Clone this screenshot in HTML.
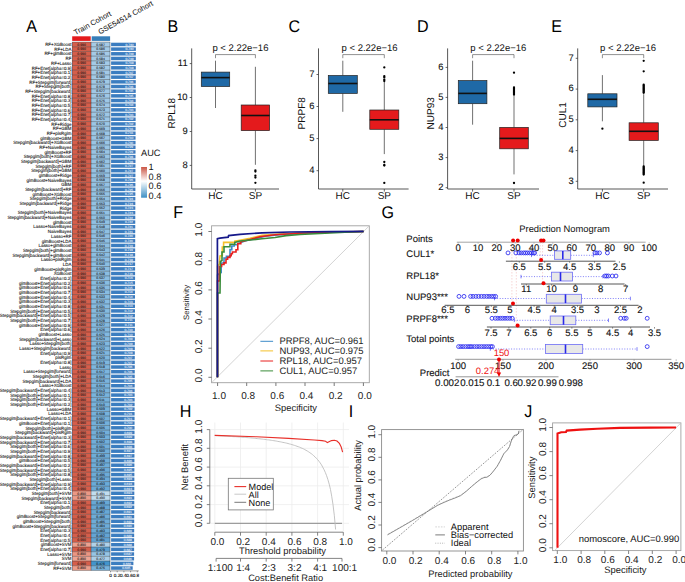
<!DOCTYPE html>
<html><head><meta charset="utf-8"><style>
html,body{margin:0;padding:0;background:#fff;}
svg{display:block;font-family:"Liberation Sans",sans-serif;text-rendering:geometricPrecision;}
</style></head><body>
<svg width="685" height="582" viewBox="0 0 685 582">
<rect width="685" height="582" fill="#fff"/>
<text transform="translate(26.3,31.8) scale(0.945,1)" font-size="17" fill="#000">A</text><text transform="translate(167.5,31.8) scale(0.945,1)" font-size="17" fill="#000">B</text><text transform="translate(288.6,31.8) scale(0.945,1)" font-size="17" fill="#000">C</text><text transform="translate(416.9,31.8) scale(0.945,1)" font-size="17" fill="#000">D</text><text transform="translate(551.3,31.8) scale(0.945,1)" font-size="17" fill="#000">E</text><text transform="translate(173.3,217.9) scale(0.945,1)" font-size="17" fill="#000">F</text><text transform="translate(381.55,217.9) scale(0.945,1)" font-size="17" fill="#000">G</text><text transform="translate(179.8,416.6) scale(0.945,1)" font-size="17" fill="#000">H</text><text transform="translate(348.7,416.6) scale(0.945,1)" font-size="17" fill="#000">I</text><text transform="translate(524.15,416.6) scale(0.945,1)" font-size="17" fill="#000">J</text>
<rect x="72.2" y="36.3" width="18.5" height="4.6" fill="#E41A1C"/>
<rect x="91.7" y="36.3" width="18.4" height="4.6" fill="#377EB8"/>
<text transform="translate(75.6,35.2) rotate(-29)" font-size="7.5" fill="#111" stroke="#111" stroke-width="0.05">Train Cohort</text>
<text transform="translate(100.0,34.6) rotate(-29)" font-size="7.5" fill="#111" stroke="#111" stroke-width="0.05">GSE54514 Cohort</text>
<rect x="72.2" y="42.10" width="18.9" height="4.68" fill="#d55e4b"/>
<rect x="91.1" y="42.10" width="19.0" height="4.68" fill="#a6cbe7"/>
<rect x="111.1" y="42.70" width="24.80" height="3.48" fill="#3B7DC0"/>
<rect x="72.2" y="46.78" width="18.9" height="4.68" fill="#d55e4b"/>
<rect x="91.1" y="46.78" width="19.0" height="4.68" fill="#a5cbe7"/>
<rect x="111.1" y="47.38" width="24.78" height="3.48" fill="#3B7DC0"/>
<rect x="72.2" y="51.45" width="18.9" height="4.68" fill="#d55e4b"/>
<rect x="91.1" y="51.45" width="19.0" height="4.68" fill="#a5cae7"/>
<rect x="111.1" y="52.05" width="24.77" height="3.48" fill="#3B7DC0"/>
<rect x="72.2" y="56.13" width="18.9" height="4.68" fill="#d55e4b"/>
<rect x="91.1" y="56.13" width="19.0" height="4.68" fill="#a4cae7"/>
<rect x="111.1" y="56.73" width="24.75" height="3.48" fill="#3B7DC0"/>
<rect x="72.2" y="60.80" width="18.9" height="4.68" fill="#d55e4b"/>
<rect x="91.1" y="60.80" width="19.0" height="4.68" fill="#a4cae7"/>
<rect x="111.1" y="61.40" width="24.73" height="3.48" fill="#3B7DC0"/>
<rect x="72.2" y="65.48" width="18.9" height="4.68" fill="#d55e4b"/>
<rect x="91.1" y="65.48" width="19.0" height="4.68" fill="#a3cae6"/>
<rect x="111.1" y="66.08" width="24.72" height="3.48" fill="#3B7DC0"/>
<rect x="72.2" y="70.15" width="18.9" height="4.68" fill="#d55e4b"/>
<rect x="91.1" y="70.15" width="19.0" height="4.68" fill="#a3c9e6"/>
<rect x="111.1" y="70.75" width="24.70" height="3.48" fill="#3B7DC0"/>
<rect x="72.2" y="74.83" width="18.9" height="4.68" fill="#d55e4b"/>
<rect x="91.1" y="74.83" width="19.0" height="4.68" fill="#a2c9e6"/>
<rect x="111.1" y="75.43" width="24.68" height="3.48" fill="#3B7DC0"/>
<rect x="72.2" y="79.50" width="18.9" height="4.68" fill="#d55e4b"/>
<rect x="91.1" y="79.50" width="19.0" height="4.68" fill="#a1c9e6"/>
<rect x="111.1" y="80.10" width="24.67" height="3.48" fill="#3B7DC0"/>
<rect x="72.2" y="84.18" width="18.9" height="4.68" fill="#d55e4b"/>
<rect x="91.1" y="84.18" width="19.0" height="4.68" fill="#a1c8e6"/>
<rect x="111.1" y="84.78" width="24.65" height="3.48" fill="#3B7DC0"/>
<rect x="72.2" y="88.85" width="18.9" height="4.68" fill="#d55e4b"/>
<rect x="91.1" y="88.85" width="19.0" height="4.68" fill="#a0c8e6"/>
<rect x="111.1" y="89.45" width="24.64" height="3.48" fill="#3B7DC0"/>
<rect x="72.2" y="93.53" width="18.9" height="4.68" fill="#d55e4b"/>
<rect x="91.1" y="93.53" width="19.0" height="4.68" fill="#a0c8e6"/>
<rect x="111.1" y="94.13" width="24.62" height="3.48" fill="#3B7DC0"/>
<rect x="72.2" y="98.20" width="18.9" height="4.68" fill="#d55e4b"/>
<rect x="91.1" y="98.20" width="19.0" height="4.68" fill="#9fc8e6"/>
<rect x="111.1" y="98.80" width="24.60" height="3.48" fill="#3B7DC0"/>
<rect x="72.2" y="102.88" width="18.9" height="4.68" fill="#d55e4b"/>
<rect x="91.1" y="102.88" width="19.0" height="4.68" fill="#9fc7e5"/>
<rect x="111.1" y="103.48" width="24.59" height="3.48" fill="#3B7DC0"/>
<rect x="72.2" y="107.55" width="18.9" height="4.68" fill="#d55e4b"/>
<rect x="91.1" y="107.55" width="19.0" height="4.68" fill="#9ec7e5"/>
<rect x="111.1" y="108.15" width="24.57" height="3.48" fill="#3B7DC0"/>
<rect x="72.2" y="112.23" width="18.9" height="4.68" fill="#d55e4b"/>
<rect x="91.1" y="112.23" width="19.0" height="4.68" fill="#9ec7e5"/>
<rect x="111.1" y="112.83" width="24.55" height="3.48" fill="#3B7DC0"/>
<rect x="72.2" y="116.90" width="18.9" height="4.68" fill="#d55e4b"/>
<rect x="91.1" y="116.90" width="19.0" height="4.68" fill="#9dc6e5"/>
<rect x="111.1" y="117.50" width="24.54" height="3.48" fill="#3B7DC0"/>
<rect x="72.2" y="121.58" width="18.9" height="4.68" fill="#d55e4b"/>
<rect x="91.1" y="121.58" width="19.0" height="4.68" fill="#9cc6e5"/>
<rect x="111.1" y="122.18" width="24.52" height="3.48" fill="#3B7DC0"/>
<rect x="72.2" y="126.25" width="18.9" height="4.68" fill="#d55e4b"/>
<rect x="91.1" y="126.25" width="19.0" height="4.68" fill="#9cc6e5"/>
<rect x="111.1" y="126.85" width="24.50" height="3.48" fill="#3B7DC0"/>
<rect x="72.2" y="130.93" width="18.9" height="4.68" fill="#d55e4b"/>
<rect x="91.1" y="130.93" width="19.0" height="4.68" fill="#9bc6e5"/>
<rect x="111.1" y="131.53" width="24.49" height="3.48" fill="#3B7DC0"/>
<rect x="72.2" y="135.60" width="18.9" height="4.68" fill="#d55e4b"/>
<rect x="91.1" y="135.60" width="19.0" height="4.68" fill="#9bc5e5"/>
<rect x="111.1" y="136.20" width="24.47" height="3.48" fill="#3B7DC0"/>
<rect x="72.2" y="140.28" width="18.9" height="4.68" fill="#d55e4b"/>
<rect x="91.1" y="140.28" width="19.0" height="4.68" fill="#9ac5e5"/>
<rect x="111.1" y="140.88" width="24.45" height="3.48" fill="#3B7DC0"/>
<rect x="72.2" y="144.95" width="18.9" height="4.68" fill="#d55e4b"/>
<rect x="91.1" y="144.95" width="19.0" height="4.68" fill="#9ac5e4"/>
<rect x="111.1" y="145.55" width="24.44" height="3.48" fill="#3B7DC0"/>
<rect x="72.2" y="149.63" width="18.9" height="4.68" fill="#d55e4b"/>
<rect x="91.1" y="149.63" width="19.0" height="4.68" fill="#99c4e4"/>
<rect x="111.1" y="150.23" width="24.42" height="3.48" fill="#3B7DC0"/>
<rect x="72.2" y="154.31" width="18.9" height="4.68" fill="#d55e4b"/>
<rect x="91.1" y="154.31" width="19.0" height="4.68" fill="#98c4e4"/>
<rect x="111.1" y="154.91" width="24.40" height="3.48" fill="#3B7DC0"/>
<rect x="72.2" y="158.98" width="18.9" height="4.68" fill="#d55e4b"/>
<rect x="91.1" y="158.98" width="19.0" height="4.68" fill="#98c4e4"/>
<rect x="111.1" y="159.58" width="24.39" height="3.48" fill="#3B7DC0"/>
<rect x="72.2" y="163.66" width="18.9" height="4.68" fill="#d55e4b"/>
<rect x="91.1" y="163.66" width="19.0" height="4.68" fill="#97c4e4"/>
<rect x="111.1" y="164.26" width="24.37" height="3.48" fill="#3B7DC0"/>
<rect x="72.2" y="168.33" width="18.9" height="4.68" fill="#d55e4b"/>
<rect x="91.1" y="168.33" width="19.0" height="4.68" fill="#97c3e4"/>
<rect x="111.1" y="168.93" width="24.35" height="3.48" fill="#3B7DC0"/>
<rect x="72.2" y="173.01" width="18.9" height="4.68" fill="#d55e4b"/>
<rect x="91.1" y="173.01" width="19.0" height="4.68" fill="#96c3e4"/>
<rect x="111.1" y="173.61" width="24.34" height="3.48" fill="#3B7DC0"/>
<rect x="72.2" y="177.68" width="18.9" height="4.68" fill="#d55e4b"/>
<rect x="91.1" y="177.68" width="19.0" height="4.68" fill="#96c3e4"/>
<rect x="111.1" y="178.28" width="24.32" height="3.48" fill="#3B7DC0"/>
<rect x="72.2" y="182.36" width="18.9" height="4.68" fill="#d55e4b"/>
<rect x="91.1" y="182.36" width="19.0" height="4.68" fill="#95c2e4"/>
<rect x="111.1" y="182.96" width="24.31" height="3.48" fill="#3B7DC0"/>
<rect x="72.2" y="187.03" width="18.9" height="4.68" fill="#d55e4b"/>
<rect x="91.1" y="187.03" width="19.0" height="4.68" fill="#94c2e3"/>
<rect x="111.1" y="187.63" width="24.29" height="3.48" fill="#3B7DC0"/>
<rect x="72.2" y="191.71" width="18.9" height="4.68" fill="#d55e4b"/>
<rect x="91.1" y="191.71" width="19.0" height="4.68" fill="#94c2e3"/>
<rect x="111.1" y="192.31" width="24.27" height="3.48" fill="#3B7DC0"/>
<rect x="72.2" y="196.38" width="18.9" height="4.68" fill="#d55e4b"/>
<rect x="91.1" y="196.38" width="19.0" height="4.68" fill="#93c2e3"/>
<rect x="111.1" y="196.98" width="24.26" height="3.48" fill="#3B7DC0"/>
<rect x="72.2" y="201.06" width="18.9" height="4.68" fill="#d55e4b"/>
<rect x="91.1" y="201.06" width="19.0" height="4.68" fill="#93c1e3"/>
<rect x="111.1" y="201.66" width="24.24" height="3.48" fill="#3B7DC0"/>
<rect x="72.2" y="205.73" width="18.9" height="4.68" fill="#d55e4b"/>
<rect x="91.1" y="205.73" width="19.0" height="4.68" fill="#92c1e3"/>
<rect x="111.1" y="206.33" width="24.22" height="3.48" fill="#3B7DC0"/>
<rect x="72.2" y="210.41" width="18.9" height="4.68" fill="#d55e4b"/>
<rect x="91.1" y="210.41" width="19.0" height="4.68" fill="#92c1e3"/>
<rect x="111.1" y="211.01" width="24.21" height="3.48" fill="#3B7DC0"/>
<rect x="72.2" y="215.08" width="18.9" height="4.68" fill="#d55e4b"/>
<rect x="91.1" y="215.08" width="19.0" height="4.68" fill="#91c1e3"/>
<rect x="111.1" y="215.68" width="24.19" height="3.48" fill="#3B7DC0"/>
<rect x="72.2" y="219.76" width="18.9" height="4.68" fill="#d55e4b"/>
<rect x="91.1" y="219.76" width="19.0" height="4.68" fill="#90c0e3"/>
<rect x="111.1" y="220.36" width="24.17" height="3.48" fill="#3B7DC0"/>
<rect x="72.2" y="224.43" width="18.9" height="4.68" fill="#d55e4b"/>
<rect x="91.1" y="224.43" width="19.0" height="4.68" fill="#90c0e2"/>
<rect x="111.1" y="225.03" width="24.16" height="3.48" fill="#3B7DC0"/>
<rect x="72.2" y="229.11" width="18.9" height="4.68" fill="#d55e4b"/>
<rect x="91.1" y="229.11" width="19.0" height="4.68" fill="#8fc0e2"/>
<rect x="111.1" y="229.71" width="24.14" height="3.48" fill="#3B7DC0"/>
<rect x="72.2" y="233.78" width="18.9" height="4.68" fill="#d55e4b"/>
<rect x="91.1" y="233.78" width="19.0" height="4.68" fill="#8fbfe2"/>
<rect x="111.1" y="234.38" width="24.12" height="3.48" fill="#3B7DC0"/>
<rect x="72.2" y="238.46" width="18.9" height="4.68" fill="#d55e4b"/>
<rect x="91.1" y="238.46" width="19.0" height="4.68" fill="#8ebfe2"/>
<rect x="111.1" y="239.06" width="24.11" height="3.48" fill="#3B7DC0"/>
<rect x="72.2" y="243.13" width="18.9" height="4.68" fill="#d55e4b"/>
<rect x="91.1" y="243.13" width="19.0" height="4.68" fill="#8ebfe2"/>
<rect x="111.1" y="243.73" width="24.09" height="3.48" fill="#3B7DC0"/>
<rect x="72.2" y="247.81" width="18.9" height="4.68" fill="#d55e4b"/>
<rect x="91.1" y="247.81" width="19.0" height="4.68" fill="#8dbfe2"/>
<rect x="111.1" y="248.41" width="24.07" height="3.48" fill="#3B7DC0"/>
<rect x="72.2" y="252.48" width="18.9" height="4.68" fill="#d55e4b"/>
<rect x="91.1" y="252.48" width="19.0" height="4.68" fill="#8cbee2"/>
<rect x="111.1" y="253.08" width="24.06" height="3.48" fill="#3B7DC0"/>
<rect x="72.2" y="257.16" width="18.9" height="4.68" fill="#d55e4b"/>
<rect x="91.1" y="257.16" width="19.0" height="4.68" fill="#8cbee2"/>
<rect x="111.1" y="257.76" width="24.04" height="3.48" fill="#3B7DC0"/>
<rect x="72.2" y="261.84" width="18.9" height="4.68" fill="#d55e4b"/>
<rect x="91.1" y="261.84" width="19.0" height="4.68" fill="#8bbee2"/>
<rect x="111.1" y="262.44" width="24.02" height="3.48" fill="#3B7DC0"/>
<rect x="72.2" y="266.51" width="18.9" height="4.68" fill="#d55e4b"/>
<rect x="91.1" y="266.51" width="19.0" height="4.68" fill="#8bbde1"/>
<rect x="111.1" y="267.11" width="24.01" height="3.48" fill="#3B7DC0"/>
<rect x="72.2" y="271.19" width="18.9" height="4.68" fill="#d55e4b"/>
<rect x="91.1" y="271.19" width="19.0" height="4.68" fill="#8abde1"/>
<rect x="111.1" y="271.79" width="23.99" height="3.48" fill="#3B7DC0"/>
<rect x="72.2" y="275.86" width="18.9" height="4.68" fill="#d55e4b"/>
<rect x="91.1" y="275.86" width="19.0" height="4.68" fill="#8abde1"/>
<rect x="111.1" y="276.46" width="23.98" height="3.48" fill="#3B7DC0"/>
<rect x="72.2" y="280.54" width="18.9" height="4.68" fill="#d55e4b"/>
<rect x="91.1" y="280.54" width="19.0" height="4.68" fill="#89bde1"/>
<rect x="111.1" y="281.14" width="23.96" height="3.48" fill="#3B7DC0"/>
<rect x="72.2" y="285.21" width="18.9" height="4.68" fill="#d55e4b"/>
<rect x="91.1" y="285.21" width="19.0" height="4.68" fill="#89bce1"/>
<rect x="111.1" y="285.81" width="23.94" height="3.48" fill="#3B7DC0"/>
<rect x="72.2" y="289.89" width="18.9" height="4.68" fill="#d55e4b"/>
<rect x="91.1" y="289.89" width="19.0" height="4.68" fill="#88bce1"/>
<rect x="111.1" y="290.49" width="23.93" height="3.48" fill="#3B7DC0"/>
<rect x="72.2" y="294.56" width="18.9" height="4.68" fill="#d55e4b"/>
<rect x="91.1" y="294.56" width="19.0" height="4.68" fill="#87bce1"/>
<rect x="111.1" y="295.16" width="23.91" height="3.48" fill="#3B7DC0"/>
<rect x="72.2" y="299.24" width="18.9" height="4.68" fill="#d55e4b"/>
<rect x="91.1" y="299.24" width="19.0" height="4.68" fill="#87bbe1"/>
<rect x="111.1" y="299.84" width="23.89" height="3.48" fill="#3B7DC0"/>
<rect x="72.2" y="303.91" width="18.9" height="4.68" fill="#d55e4b"/>
<rect x="91.1" y="303.91" width="19.0" height="4.68" fill="#86bbe0"/>
<rect x="111.1" y="304.51" width="23.88" height="3.48" fill="#3B7DC0"/>
<rect x="72.2" y="308.59" width="18.9" height="4.68" fill="#d55e4b"/>
<rect x="91.1" y="308.59" width="19.0" height="4.68" fill="#86bbe0"/>
<rect x="111.1" y="309.19" width="23.86" height="3.48" fill="#3B7DC0"/>
<rect x="72.2" y="313.26" width="18.9" height="4.68" fill="#d55e4b"/>
<rect x="91.1" y="313.26" width="19.0" height="4.68" fill="#85bbe0"/>
<rect x="111.1" y="313.86" width="23.84" height="3.48" fill="#3B7DC0"/>
<rect x="72.2" y="317.94" width="18.9" height="4.68" fill="#d55e4b"/>
<rect x="91.1" y="317.94" width="19.0" height="4.68" fill="#85bae0"/>
<rect x="111.1" y="318.54" width="23.83" height="3.48" fill="#3B7DC0"/>
<rect x="72.2" y="322.61" width="18.9" height="4.68" fill="#d55e4b"/>
<rect x="91.1" y="322.61" width="19.0" height="4.68" fill="#84bae0"/>
<rect x="111.1" y="323.21" width="23.81" height="3.48" fill="#3B7DC0"/>
<rect x="72.2" y="327.29" width="18.9" height="4.68" fill="#d55e4b"/>
<rect x="91.1" y="327.29" width="19.0" height="4.68" fill="#83bae0"/>
<rect x="111.1" y="327.89" width="23.79" height="3.48" fill="#3B7DC0"/>
<rect x="72.2" y="331.96" width="18.9" height="4.68" fill="#d55e4b"/>
<rect x="91.1" y="331.96" width="19.0" height="4.68" fill="#82b9e0"/>
<rect x="111.1" y="332.56" width="23.78" height="3.48" fill="#3B7DC0"/>
<rect x="72.2" y="336.64" width="18.9" height="4.68" fill="#d55e4b"/>
<rect x="91.1" y="336.64" width="19.0" height="4.68" fill="#82b9df"/>
<rect x="111.1" y="337.24" width="23.76" height="3.48" fill="#3B7DC0"/>
<rect x="72.2" y="341.31" width="18.9" height="4.68" fill="#d55e4b"/>
<rect x="91.1" y="341.31" width="19.0" height="4.68" fill="#81b8df"/>
<rect x="111.1" y="341.91" width="23.74" height="3.48" fill="#3B7DC0"/>
<rect x="72.2" y="345.99" width="18.9" height="4.68" fill="#d55e4b"/>
<rect x="91.1" y="345.99" width="19.0" height="4.68" fill="#80b8df"/>
<rect x="111.1" y="346.59" width="23.73" height="3.48" fill="#3B7DC0"/>
<rect x="72.2" y="350.66" width="18.9" height="4.68" fill="#d55e4b"/>
<rect x="91.1" y="350.66" width="19.0" height="4.68" fill="#80b7de"/>
<rect x="111.1" y="351.26" width="23.71" height="3.48" fill="#3B7DC0"/>
<rect x="72.2" y="355.34" width="18.9" height="4.68" fill="#d55e4b"/>
<rect x="91.1" y="355.34" width="19.0" height="4.68" fill="#7fb7de"/>
<rect x="111.1" y="355.94" width="23.69" height="3.48" fill="#3B7DC0"/>
<rect x="72.2" y="360.02" width="18.9" height="4.68" fill="#d55e4b"/>
<rect x="91.1" y="360.02" width="19.0" height="4.68" fill="#7eb6de"/>
<rect x="111.1" y="360.62" width="23.68" height="3.48" fill="#3B7DC0"/>
<rect x="72.2" y="364.69" width="18.9" height="4.68" fill="#d55e4b"/>
<rect x="91.1" y="364.69" width="19.0" height="4.68" fill="#7db6de"/>
<rect x="111.1" y="365.29" width="23.66" height="3.48" fill="#3B7DC0"/>
<rect x="72.2" y="369.37" width="18.9" height="4.68" fill="#d55e4b"/>
<rect x="91.1" y="369.37" width="19.0" height="4.68" fill="#7cb5de"/>
<rect x="111.1" y="369.97" width="23.65" height="3.48" fill="#3B7DC0"/>
<rect x="72.2" y="374.04" width="18.9" height="4.68" fill="#d55e4b"/>
<rect x="91.1" y="374.04" width="19.0" height="4.68" fill="#7cb5dd"/>
<rect x="111.1" y="374.64" width="23.63" height="3.48" fill="#3B7DC0"/>
<rect x="72.2" y="378.72" width="18.9" height="4.68" fill="#d55e4b"/>
<rect x="91.1" y="378.72" width="19.0" height="4.68" fill="#7bb4dd"/>
<rect x="111.1" y="379.32" width="23.61" height="3.48" fill="#3B7DC0"/>
<rect x="72.2" y="383.39" width="18.9" height="4.68" fill="#d55e4b"/>
<rect x="91.1" y="383.39" width="19.0" height="4.68" fill="#7ab4dd"/>
<rect x="111.1" y="383.99" width="23.60" height="3.48" fill="#3B7DC0"/>
<rect x="72.2" y="388.07" width="18.9" height="4.68" fill="#d55e4b"/>
<rect x="91.1" y="388.07" width="19.0" height="4.68" fill="#7ab3dc"/>
<rect x="111.1" y="388.67" width="23.58" height="3.48" fill="#3B7DC0"/>
<rect x="72.2" y="392.74" width="18.9" height="4.68" fill="#d55e4b"/>
<rect x="91.1" y="392.74" width="19.0" height="4.68" fill="#79b3dc"/>
<rect x="111.1" y="393.34" width="23.56" height="3.48" fill="#3B7DC0"/>
<rect x="72.2" y="397.42" width="18.9" height="4.68" fill="#d55e4b"/>
<rect x="91.1" y="397.42" width="19.0" height="4.68" fill="#78b2dc"/>
<rect x="111.1" y="398.02" width="23.55" height="3.48" fill="#3B7DC0"/>
<rect x="72.2" y="402.09" width="18.9" height="4.68" fill="#d55e4b"/>
<rect x="91.1" y="402.09" width="19.0" height="4.68" fill="#77b2dc"/>
<rect x="111.1" y="402.69" width="23.53" height="3.48" fill="#3B7DC0"/>
<rect x="72.2" y="406.77" width="18.9" height="4.68" fill="#d55e4b"/>
<rect x="91.1" y="406.77" width="19.0" height="4.68" fill="#76b2dc"/>
<rect x="111.1" y="407.37" width="23.51" height="3.48" fill="#3B7DC0"/>
<rect x="72.2" y="411.44" width="18.9" height="4.68" fill="#d55e4b"/>
<rect x="91.1" y="411.44" width="19.0" height="4.68" fill="#76b1db"/>
<rect x="111.1" y="412.04" width="23.50" height="3.48" fill="#3B7DC0"/>
<rect x="72.2" y="416.12" width="18.9" height="4.68" fill="#d55e4b"/>
<rect x="91.1" y="416.12" width="19.0" height="4.68" fill="#75b1db"/>
<rect x="111.1" y="416.72" width="23.48" height="3.48" fill="#3B7DC0"/>
<rect x="72.2" y="420.79" width="18.9" height="4.68" fill="#d55e4b"/>
<rect x="91.1" y="420.79" width="19.0" height="4.68" fill="#74b0db"/>
<rect x="111.1" y="421.39" width="23.46" height="3.48" fill="#3B7DC0"/>
<rect x="72.2" y="425.47" width="18.9" height="4.68" fill="#d55e4b"/>
<rect x="91.1" y="425.47" width="19.0" height="4.68" fill="#74b0da"/>
<rect x="111.1" y="426.07" width="23.45" height="3.48" fill="#3B7DC0"/>
<rect x="72.2" y="430.14" width="18.9" height="4.68" fill="#d55e4b"/>
<rect x="91.1" y="430.14" width="19.0" height="4.68" fill="#73afda"/>
<rect x="111.1" y="430.74" width="23.43" height="3.48" fill="#3B7DC0"/>
<rect x="72.2" y="434.82" width="18.9" height="4.68" fill="#d55e4b"/>
<rect x="91.1" y="434.82" width="19.0" height="4.68" fill="#72afda"/>
<rect x="111.1" y="435.42" width="23.41" height="3.48" fill="#3B7DC0"/>
<rect x="72.2" y="439.49" width="18.9" height="4.68" fill="#d55e4b"/>
<rect x="91.1" y="439.49" width="19.0" height="4.68" fill="#71aeda"/>
<rect x="111.1" y="440.09" width="23.40" height="3.48" fill="#3B7DC0"/>
<rect x="72.2" y="444.17" width="18.9" height="4.68" fill="#d55e4b"/>
<rect x="91.1" y="444.17" width="19.0" height="4.68" fill="#70aeda"/>
<rect x="111.1" y="444.77" width="23.38" height="3.48" fill="#3B7DC0"/>
<rect x="72.2" y="448.84" width="18.9" height="4.68" fill="#d55e4b"/>
<rect x="91.1" y="448.84" width="19.0" height="4.68" fill="#70add9"/>
<rect x="111.1" y="449.44" width="23.36" height="3.48" fill="#3B7DC0"/>
<rect x="72.2" y="453.52" width="18.9" height="4.68" fill="#d55e4b"/>
<rect x="91.1" y="453.52" width="19.0" height="4.68" fill="#6fadd9"/>
<rect x="111.1" y="454.12" width="23.35" height="3.48" fill="#3B7DC0"/>
<rect x="72.2" y="458.19" width="18.9" height="4.68" fill="#d55e4b"/>
<rect x="91.1" y="458.19" width="19.0" height="4.68" fill="#6eacd9"/>
<rect x="111.1" y="458.79" width="23.33" height="3.48" fill="#3B7DC0"/>
<rect x="72.2" y="462.87" width="18.9" height="4.68" fill="#d55e4b"/>
<rect x="91.1" y="462.87" width="19.0" height="4.68" fill="#6eacd8"/>
<rect x="111.1" y="463.47" width="23.31" height="3.48" fill="#3B7DC0"/>
<rect x="72.2" y="467.55" width="18.9" height="4.68" fill="#d55e4b"/>
<rect x="91.1" y="467.55" width="19.0" height="4.68" fill="#6dabd8"/>
<rect x="111.1" y="468.15" width="23.30" height="3.48" fill="#3B7DC0"/>
<rect x="72.2" y="472.22" width="18.9" height="4.68" fill="#d55e4b"/>
<rect x="91.1" y="472.22" width="19.0" height="4.68" fill="#6cabd8"/>
<rect x="111.1" y="472.82" width="23.28" height="3.48" fill="#3B7DC0"/>
<rect x="72.2" y="476.90" width="18.9" height="4.68" fill="#d55e4b"/>
<rect x="91.1" y="476.90" width="19.0" height="4.68" fill="#6baad8"/>
<rect x="111.1" y="477.50" width="23.27" height="3.48" fill="#3B7DC0"/>
<rect x="72.2" y="481.57" width="18.9" height="4.68" fill="#d55e4b"/>
<rect x="91.1" y="481.57" width="19.0" height="4.68" fill="#6aaad8"/>
<rect x="111.1" y="482.17" width="23.25" height="3.48" fill="#3B7DC0"/>
<rect x="72.2" y="486.25" width="18.9" height="4.68" fill="#d55e4b"/>
<rect x="91.1" y="486.25" width="19.0" height="4.68" fill="#6aa9d7"/>
<rect x="111.1" y="486.85" width="23.23" height="3.48" fill="#3B7DC0"/>
<rect x="72.2" y="490.92" width="18.9" height="4.68" fill="#ec9885"/>
<rect x="91.1" y="490.92" width="19.0" height="4.68" fill="#c1ddef"/>
<rect x="111.1" y="491.52" width="23.22" height="3.48" fill="#3B7DC0"/>
<rect x="72.2" y="495.60" width="18.9" height="4.68" fill="#ec9a88"/>
<rect x="91.1" y="495.60" width="19.0" height="4.68" fill="#bedbee"/>
<rect x="111.1" y="496.20" width="23.20" height="3.48" fill="#3B7DC0"/>
<rect x="72.2" y="500.27" width="18.9" height="4.68" fill="#d55e4b"/>
<rect x="91.1" y="500.27" width="19.0" height="4.68" fill="#68a8d6"/>
<rect x="111.1" y="500.87" width="23.18" height="3.48" fill="#3B7DC0"/>
<rect x="72.2" y="504.95" width="18.9" height="4.68" fill="#d55e4b"/>
<rect x="91.1" y="504.95" width="19.0" height="4.68" fill="#66a6d5"/>
<rect x="111.1" y="505.55" width="23.17" height="3.48" fill="#3B7DC0"/>
<rect x="72.2" y="509.62" width="18.9" height="4.68" fill="#d55e4b"/>
<rect x="91.1" y="509.62" width="19.0" height="4.68" fill="#68a8d6"/>
<rect x="111.1" y="510.22" width="23.15" height="3.48" fill="#3B7DC0"/>
<rect x="72.2" y="514.30" width="18.9" height="4.68" fill="#d55e4b"/>
<rect x="91.1" y="514.30" width="19.0" height="4.68" fill="#6eacd8"/>
<rect x="111.1" y="514.90" width="23.13" height="3.48" fill="#3B7DC0"/>
<rect x="72.2" y="518.97" width="18.9" height="4.68" fill="#d55e4b"/>
<rect x="91.1" y="518.97" width="19.0" height="4.68" fill="#6eacd8"/>
<rect x="111.1" y="519.57" width="23.12" height="3.48" fill="#3B7DC0"/>
<rect x="72.2" y="523.65" width="18.9" height="4.68" fill="#d55e4b"/>
<rect x="91.1" y="523.65" width="19.0" height="4.68" fill="#6eacd8"/>
<rect x="111.1" y="524.25" width="23.10" height="3.48" fill="#3B7DC0"/>
<rect x="72.2" y="528.32" width="18.9" height="4.68" fill="#d55e4b"/>
<rect x="91.1" y="528.32" width="19.0" height="4.68" fill="#6aaad7"/>
<rect x="111.1" y="528.92" width="23.08" height="3.48" fill="#3B7DC0"/>
<rect x="72.2" y="533.00" width="18.9" height="4.68" fill="#d55e4b"/>
<rect x="91.1" y="533.00" width="19.0" height="4.68" fill="#64a4d4"/>
<rect x="111.1" y="533.60" width="23.07" height="3.48" fill="#3B7DC0"/>
<rect x="72.2" y="537.67" width="18.9" height="4.68" fill="#d55e4b"/>
<rect x="91.1" y="537.67" width="19.0" height="4.68" fill="#62a3d3"/>
<rect x="111.1" y="538.27" width="23.05" height="3.48" fill="#3B7DC0"/>
<rect x="72.2" y="542.35" width="18.9" height="4.68" fill="#eea08e"/>
<rect x="91.1" y="542.35" width="19.0" height="4.68" fill="#b0d1e9"/>
<rect x="111.1" y="542.95" width="23.03" height="3.48" fill="#3B7DC0"/>
<rect x="72.2" y="547.02" width="18.9" height="4.68" fill="#d55e4b"/>
<rect x="91.1" y="547.02" width="19.0" height="4.68" fill="#5ca0d1"/>
<rect x="111.1" y="547.62" width="23.02" height="3.48" fill="#3B7DC0"/>
<rect x="72.2" y="551.70" width="18.9" height="4.68" fill="#eb9683"/>
<rect x="91.1" y="551.70" width="19.0" height="4.68" fill="#96c4e4"/>
<rect x="111.1" y="552.30" width="23.00" height="3.48" fill="#3B7DC0"/>
<rect x="72.2" y="556.37" width="18.9" height="4.68" fill="#eea493"/>
<rect x="91.1" y="556.37" width="19.0" height="4.68" fill="#aacee8"/>
<rect x="111.1" y="556.97" width="22.99" height="3.48" fill="#3B7DC0"/>
<rect x="72.2" y="561.05" width="18.9" height="4.68" fill="#d55e4b"/>
<rect x="91.1" y="561.05" width="19.0" height="4.68" fill="#4294cc"/>
<rect x="111.1" y="561.65" width="22.30" height="3.48" fill="#3B7DC0"/>
<rect x="72.2" y="565.72" width="18.9" height="4.68" fill="#ed9d8b"/>
<rect x="91.1" y="565.72" width="19.0" height="4.68" fill="#76b2dc"/>
<rect x="111.1" y="566.32" width="21.60" height="3.48" fill="#3B7DC0"/>
<path d="M72.2 42.10H110.1 M72.2 46.78H110.1 M72.2 51.45H110.1 M72.2 56.13H110.1 M72.2 60.80H110.1 M72.2 65.48H110.1 M72.2 70.15H110.1 M72.2 74.83H110.1 M72.2 79.50H110.1 M72.2 84.18H110.1 M72.2 88.85H110.1 M72.2 93.53H110.1 M72.2 98.20H110.1 M72.2 102.88H110.1 M72.2 107.55H110.1 M72.2 112.23H110.1 M72.2 116.90H110.1 M72.2 121.58H110.1 M72.2 126.25H110.1 M72.2 130.93H110.1 M72.2 135.60H110.1 M72.2 140.28H110.1 M72.2 144.95H110.1 M72.2 149.63H110.1 M72.2 154.31H110.1 M72.2 158.98H110.1 M72.2 163.66H110.1 M72.2 168.33H110.1 M72.2 173.01H110.1 M72.2 177.68H110.1 M72.2 182.36H110.1 M72.2 187.03H110.1 M72.2 191.71H110.1 M72.2 196.38H110.1 M72.2 201.06H110.1 M72.2 205.73H110.1 M72.2 210.41H110.1 M72.2 215.08H110.1 M72.2 219.76H110.1 M72.2 224.43H110.1 M72.2 229.11H110.1 M72.2 233.78H110.1 M72.2 238.46H110.1 M72.2 243.13H110.1 M72.2 247.81H110.1 M72.2 252.48H110.1 M72.2 257.16H110.1 M72.2 261.84H110.1 M72.2 266.51H110.1 M72.2 271.19H110.1 M72.2 275.86H110.1 M72.2 280.54H110.1 M72.2 285.21H110.1 M72.2 289.89H110.1 M72.2 294.56H110.1 M72.2 299.24H110.1 M72.2 303.91H110.1 M72.2 308.59H110.1 M72.2 313.26H110.1 M72.2 317.94H110.1 M72.2 322.61H110.1 M72.2 327.29H110.1 M72.2 331.96H110.1 M72.2 336.64H110.1 M72.2 341.31H110.1 M72.2 345.99H110.1 M72.2 350.66H110.1 M72.2 355.34H110.1 M72.2 360.02H110.1 M72.2 364.69H110.1 M72.2 369.37H110.1 M72.2 374.04H110.1 M72.2 378.72H110.1 M72.2 383.39H110.1 M72.2 388.07H110.1 M72.2 392.74H110.1 M72.2 397.42H110.1 M72.2 402.09H110.1 M72.2 406.77H110.1 M72.2 411.44H110.1 M72.2 416.12H110.1 M72.2 420.79H110.1 M72.2 425.47H110.1 M72.2 430.14H110.1 M72.2 434.82H110.1 M72.2 439.49H110.1 M72.2 444.17H110.1 M72.2 448.84H110.1 M72.2 453.52H110.1 M72.2 458.19H110.1 M72.2 462.87H110.1 M72.2 467.55H110.1 M72.2 472.22H110.1 M72.2 476.90H110.1 M72.2 481.57H110.1 M72.2 486.25H110.1 M72.2 490.92H110.1 M72.2 495.60H110.1 M72.2 500.27H110.1 M72.2 504.95H110.1 M72.2 509.62H110.1 M72.2 514.30H110.1 M72.2 518.97H110.1 M72.2 523.65H110.1 M72.2 528.32H110.1 M72.2 533.00H110.1 M72.2 537.67H110.1 M72.2 542.35H110.1 M72.2 547.02H110.1 M72.2 551.70H110.1 M72.2 556.37H110.1 M72.2 561.05H110.1 M72.2 565.72H110.1 M72.2 570.40H110.1" stroke="#000" stroke-opacity="0.42" stroke-width="0.75" fill="none"/>
<path d="M72.4 42.1V570.4M91.1 42.1V570.4M110.0 42.1V570.4" stroke="#000" stroke-opacity="0.42" stroke-width="0.75" fill="none"/>
<g font-size="4.45" fill="#0a0a0a" stroke="#0a0a0a" stroke-width="0.08"><text transform="translate(71.4,46.14) scale(1,1.05)" text-anchor="end">RF+XGBoost</text><text transform="translate(71.4,50.81) scale(1,1.05)" text-anchor="end">RF+LDA</text><text transform="translate(71.4,55.49) scale(1,1.05)" text-anchor="end">RF+glmBoost</text><text transform="translate(71.4,60.16) scale(1,1.05)" text-anchor="end">RF</text><text transform="translate(71.4,64.84) scale(1,1.05)" text-anchor="end">RF+Lasso</text><text transform="translate(71.4,69.51) scale(1,1.05)" text-anchor="end">RF+Enet[alpha=0.9]</text><text transform="translate(71.4,74.19) scale(1,1.05)" text-anchor="end">RF+Enet[alpha=0.1]</text><text transform="translate(71.4,78.86) scale(1,1.05)" text-anchor="end">RF+Enet[alpha=0.2]</text><text transform="translate(71.4,83.54) scale(1,1.05)" text-anchor="end">RF+Stepglm[forward]</text><text transform="translate(71.4,88.21) scale(1,1.05)" text-anchor="end">RF+Stepglm[both]</text><text transform="translate(71.4,92.89) scale(1,1.05)" text-anchor="end">RF+Stepglm[backward]</text><text transform="translate(71.4,97.57) scale(1,1.05)" text-anchor="end">RF+Enet[alpha=0.8]</text><text transform="translate(71.4,102.24) scale(1,1.05)" text-anchor="end">RF+Enet[alpha=0.3]</text><text transform="translate(71.4,106.92) scale(1,1.05)" text-anchor="end">RF+Enet[alpha=0.5]</text><text transform="translate(71.4,111.59) scale(1,1.05)" text-anchor="end">RF+Enet[alpha=0.6]</text><text transform="translate(71.4,116.27) scale(1,1.05)" text-anchor="end">RF+Enet[alpha=0.7]</text><text transform="translate(71.4,120.94) scale(1,1.05)" text-anchor="end">RF+Enet[alpha=0.4]</text><text transform="translate(71.4,125.62) scale(1,1.05)" text-anchor="end">RF+Ridge</text><text transform="translate(71.4,130.29) scale(1,1.05)" text-anchor="end">RF+GBM</text><text transform="translate(71.4,134.97) scale(1,1.05)" text-anchor="end">RF+plsRglm</text><text transform="translate(71.4,139.64) scale(1,1.05)" text-anchor="end">glmBoost+GBM</text><text transform="translate(71.4,144.32) scale(1,1.05)" text-anchor="end">Stepglm[backward]+XGBoost</text><text transform="translate(71.4,148.99) scale(1,1.05)" text-anchor="end">RF+NaiveBayes</text><text transform="translate(71.4,153.67) scale(1,1.05)" text-anchor="end">glmBoost+RF</text><text transform="translate(71.4,158.34) scale(1,1.05)" text-anchor="end">Stepglm[both]+XGBoost</text><text transform="translate(71.4,163.02) scale(1,1.05)" text-anchor="end">Stepglm[backward]+GBM</text><text transform="translate(71.4,167.69) scale(1,1.05)" text-anchor="end">Stepglm[both]+RF</text><text transform="translate(71.4,172.37) scale(1,1.05)" text-anchor="end">Stepglm[both]+GBM</text><text transform="translate(71.4,177.04) scale(1,1.05)" text-anchor="end">glmBoost+Ridge</text><text transform="translate(71.4,181.72) scale(1,1.05)" text-anchor="end">glmBoost+NaiveBayes</text><text transform="translate(71.4,186.39) scale(1,1.05)" text-anchor="end">GBM</text><text transform="translate(71.4,191.07) scale(1,1.05)" text-anchor="end">Stepglm[backward]+RF</text><text transform="translate(71.4,195.74) scale(1,1.05)" text-anchor="end">glmBoost+XGBoost</text><text transform="translate(71.4,200.42) scale(1,1.05)" text-anchor="end">Stepglm[both]+Ridge</text><text transform="translate(71.4,205.10) scale(1,1.05)" text-anchor="end">Stepglm[backward]+Ridge</text><text transform="translate(71.4,209.77) scale(1,1.05)" text-anchor="end">Ridge</text><text transform="translate(71.4,214.45) scale(1,1.05)" text-anchor="end">Stepglm[both]+NaiveBayes</text><text transform="translate(71.4,219.12) scale(1,1.05)" text-anchor="end">Stepglm[backward]+NaiveBayes</text><text transform="translate(71.4,223.80) scale(1,1.05)" text-anchor="end">glmBoost</text><text transform="translate(71.4,228.47) scale(1,1.05)" text-anchor="end">Lasso+NaiveBayes</text><text transform="translate(71.4,233.15) scale(1,1.05)" text-anchor="end">NaiveBayes</text><text transform="translate(71.4,237.82) scale(1,1.05)" text-anchor="end">Lasso+RF</text><text transform="translate(71.4,242.50) scale(1,1.05)" text-anchor="end">glmBoost+LDA</text><text transform="translate(71.4,247.17) scale(1,1.05)" text-anchor="end">Lasso+glmBoost</text><text transform="translate(71.4,251.85) scale(1,1.05)" text-anchor="end">Stepglm[both]+glmBoost</text><text transform="translate(71.4,256.52) scale(1,1.05)" text-anchor="end">Stepglm[backward]+glmBoost</text><text transform="translate(71.4,261.20) scale(1,1.05)" text-anchor="end">Lasso+plsRglm</text><text transform="translate(71.4,265.87) scale(1,1.05)" text-anchor="end">LDA</text><text transform="translate(71.4,270.55) scale(1,1.05)" text-anchor="end">glmBoost+plsRglm</text><text transform="translate(71.4,275.22) scale(1,1.05)" text-anchor="end">XGBoost</text><text transform="translate(71.4,279.90) scale(1,1.05)" text-anchor="end">Enet[alpha=0.2]</text><text transform="translate(71.4,284.57) scale(1,1.05)" text-anchor="end">glmBoost+Enet[alpha=0.2]</text><text transform="translate(71.4,289.25) scale(1,1.05)" text-anchor="end">glmBoost+Enet[alpha=0.6]</text><text transform="translate(71.4,293.92) scale(1,1.05)" text-anchor="end">glmBoost+Enet[alpha=0.7]</text><text transform="translate(71.4,298.60) scale(1,1.05)" text-anchor="end">glmBoost+Enet[alpha=0.4]</text><text transform="translate(71.4,303.27) scale(1,1.05)" text-anchor="end">glmBoost+Enet[alpha=0.3]</text><text transform="translate(71.4,307.95) scale(1,1.05)" text-anchor="end">glmBoost+Enet[alpha=0.8]</text><text transform="translate(71.4,312.63) scale(1,1.05)" text-anchor="end">Stepglm[both]+Enet[alpha=0.5]</text><text transform="translate(71.4,317.30) scale(1,1.05)" text-anchor="end">Stepglm[backward]+Enet[alpha=0.5]</text><text transform="translate(71.4,321.98) scale(1,1.05)" text-anchor="end">Stepglm[both]+Enet[alpha=0.7]</text><text transform="translate(71.4,326.65) scale(1,1.05)" text-anchor="end">glmBoost+Enet[alpha=0.9]</text><text transform="translate(71.4,331.33) scale(1,1.05)" text-anchor="end">Enet[alpha=0.6]</text><text transform="translate(71.4,336.00) scale(1,1.05)" text-anchor="end">glmBoost+Lasso</text><text transform="translate(71.4,340.68) scale(1,1.05)" text-anchor="end">Stepglm[backward]+Lasso</text><text transform="translate(71.4,345.35) scale(1,1.05)" text-anchor="end">Lasso+Stepglm[both]</text><text transform="translate(71.4,350.03) scale(1,1.05)" text-anchor="end">Lasso+Stepglm[backward]</text><text transform="translate(71.4,354.70) scale(1,1.05)" text-anchor="end">Enet[alpha=0.9]</text><text transform="translate(71.4,359.38) scale(1,1.05)" text-anchor="end">plsRglm</text><text transform="translate(71.4,364.05) scale(1,1.05)" text-anchor="end">Enet[alpha=0.8]</text><text transform="translate(71.4,368.73) scale(1,1.05)" text-anchor="end">Lasso</text><text transform="translate(71.4,373.40) scale(1,1.05)" text-anchor="end">Lasso+Stepglm[forward]</text><text transform="translate(71.4,378.08) scale(1,1.05)" text-anchor="end">Stepglm[both]+LDA</text><text transform="translate(71.4,382.75) scale(1,1.05)" text-anchor="end">Stepglm[backward]+LDA</text><text transform="translate(71.4,387.43) scale(1,1.05)" text-anchor="end">Lasso+XGBoost</text><text transform="translate(71.4,392.10) scale(1,1.05)" text-anchor="end">Stepglm[backward]+Enet[alpha=0.4]</text><text transform="translate(71.4,396.78) scale(1,1.05)" text-anchor="end">Stepglm[both]+Enet[alpha=0.1]</text><text transform="translate(71.4,401.45) scale(1,1.05)" text-anchor="end">Stepglm[both]+Enet[alpha=0.3]</text><text transform="translate(71.4,406.13) scale(1,1.05)" text-anchor="end">Stepglm[both]+Enet[alpha=0.2]</text><text transform="translate(71.4,410.80) scale(1,1.05)" text-anchor="end">Lasso+GBM</text><text transform="translate(71.4,415.48) scale(1,1.05)" text-anchor="end">Lasso+LDA</text><text transform="translate(71.4,420.16) scale(1,1.05)" text-anchor="end">Stepglm[backward]+Enet[alpha=0.1]</text><text transform="translate(71.4,424.83) scale(1,1.05)" text-anchor="end">glmBoost+Enet[alpha=0.1]</text><text transform="translate(71.4,429.51) scale(1,1.05)" text-anchor="end">Stepglm[both]+plsRglm</text><text transform="translate(71.4,434.18) scale(1,1.05)" text-anchor="end">Stepglm[backward]+plsRglm</text><text transform="translate(71.4,438.86) scale(1,1.05)" text-anchor="end">Stepglm[backward]+Enet[alpha=0.3]</text><text transform="translate(71.4,443.53) scale(1,1.05)" text-anchor="end">Stepglm[backward]+Enet[alpha=0.7]</text><text transform="translate(71.4,448.21) scale(1,1.05)" text-anchor="end">Stepglm[both]+Enet[alpha=0.6]</text><text transform="translate(71.4,452.88) scale(1,1.05)" text-anchor="end">Stepglm[both]+Enet[alpha=0.9]</text><text transform="translate(71.4,457.56) scale(1,1.05)" text-anchor="end">Stepglm[backward]+Enet[alpha=0.8]</text><text transform="translate(71.4,462.23) scale(1,1.05)" text-anchor="end">glmBoost+Enet[alpha=0.5]</text><text transform="translate(71.4,466.91) scale(1,1.05)" text-anchor="end">Stepglm[backward]+Enet[alpha=0.2]</text><text transform="translate(71.4,471.58) scale(1,1.05)" text-anchor="end">Stepglm[backward]+Enet[alpha=0.5]</text><text transform="translate(71.4,476.26) scale(1,1.05)" text-anchor="end">Stepglm[both]+Enet[alpha=0.8]</text><text transform="translate(71.4,480.93) scale(1,1.05)" text-anchor="end">Stepglm[both]+Lasso</text><text transform="translate(71.4,485.61) scale(1,1.05)" text-anchor="end">Stepglm[backward]+Enet[alpha=0.9]</text><text transform="translate(71.4,490.28) scale(1,1.05)" text-anchor="end">Stepglm[both]+Enet[alpha=0.4]</text><text transform="translate(71.4,494.96) scale(1,1.05)" text-anchor="end">Stepglm[both]+SVM</text><text transform="translate(71.4,499.63) scale(1,1.05)" text-anchor="end">Stepglm[backward]+SVM</text><text transform="translate(71.4,504.31) scale(1,1.05)" text-anchor="end">Enet[alpha=0.1]</text><text transform="translate(71.4,508.98) scale(1,1.05)" text-anchor="end">Stepglm[both]</text><text transform="translate(71.4,513.66) scale(1,1.05)" text-anchor="end">Stepglm[backward]</text><text transform="translate(71.4,518.33) scale(1,1.05)" text-anchor="end">glmBoost+Stepglm[forward]</text><text transform="translate(71.4,523.01) scale(1,1.05)" text-anchor="end">glmBoost+Stepglm[both]</text><text transform="translate(71.4,527.69) scale(1,1.05)" text-anchor="end">glmBoost+Stepglm[backward]</text><text transform="translate(71.4,532.36) scale(1,1.05)" text-anchor="end">Enet[alpha=0.3]</text><text transform="translate(71.4,537.04) scale(1,1.05)" text-anchor="end">Enet[alpha=0.4]</text><text transform="translate(71.4,541.71) scale(1,1.05)" text-anchor="end">Enet[alpha=0.5]</text><text transform="translate(71.4,546.39) scale(1,1.05)" text-anchor="end">glmBoost+SVM</text><text transform="translate(71.4,551.06) scale(1,1.05)" text-anchor="end">Enet[alpha=0.7]</text><text transform="translate(71.4,555.74) scale(1,1.05)" text-anchor="end">Lasso+SVM</text><text transform="translate(71.4,560.41) scale(1,1.05)" text-anchor="end">SVM</text><text transform="translate(71.4,565.09) scale(1,1.05)" text-anchor="end">Stepglm[forward]</text><text transform="translate(71.4,569.76) scale(1,1.05)" text-anchor="end">RF+SVM</text></g>
<g font-size="3.4" fill="#1a1a1a" stroke="#1a1a1a" stroke-width="0.08" text-anchor="middle"><text x="81.6" y="45.69">0.990</text><text x="100.6" y="45.69">0.587</text><text x="81.6" y="50.36">0.990</text><text x="100.6" y="50.36">0.586</text><text x="81.6" y="55.04">0.990</text><text x="100.6" y="55.04">0.585</text><text x="81.6" y="59.71">0.990</text><text x="100.6" y="59.71">0.584</text><text x="81.6" y="64.39">0.990</text><text x="100.6" y="64.39">0.583</text><text x="81.6" y="69.06">0.990</text><text x="100.6" y="69.06">0.582</text><text x="81.6" y="73.74">0.990</text><text x="100.6" y="73.74">0.581</text><text x="81.6" y="78.41">0.990</text><text x="100.6" y="78.41">0.580</text><text x="81.6" y="83.09">0.990</text><text x="100.6" y="83.09">0.579</text><text x="81.6" y="87.76">0.990</text><text x="100.6" y="87.76">0.578</text><text x="81.6" y="92.44">0.990</text><text x="100.6" y="92.44">0.577</text><text x="81.6" y="97.12">0.990</text><text x="100.6" y="97.12">0.576</text><text x="81.6" y="101.79">0.990</text><text x="100.6" y="101.79">0.575</text><text x="81.6" y="106.47">0.990</text><text x="100.6" y="106.47">0.574</text><text x="81.6" y="111.14">0.990</text><text x="100.6" y="111.14">0.573</text><text x="81.6" y="115.82">0.990</text><text x="100.6" y="115.82">0.572</text><text x="81.6" y="120.49">0.990</text><text x="100.6" y="120.49">0.571</text><text x="81.6" y="125.17">0.990</text><text x="100.6" y="125.17">0.570</text><text x="81.6" y="129.84">0.990</text><text x="100.6" y="129.84">0.569</text><text x="81.6" y="134.52">0.990</text><text x="100.6" y="134.52">0.568</text><text x="81.6" y="139.19">0.990</text><text x="100.6" y="139.19">0.567</text><text x="81.6" y="143.87">0.990</text><text x="100.6" y="143.87">0.566</text><text x="81.6" y="148.54">0.990</text><text x="100.6" y="148.54">0.565</text><text x="81.6" y="153.22">0.990</text><text x="100.6" y="153.22">0.564</text><text x="81.6" y="157.89">0.990</text><text x="100.6" y="157.89">0.563</text><text x="81.6" y="162.57">0.990</text><text x="100.6" y="162.57">0.562</text><text x="81.6" y="167.24">0.990</text><text x="100.6" y="167.24">0.561</text><text x="81.6" y="171.92">0.990</text><text x="100.6" y="171.92">0.560</text><text x="81.6" y="176.59">0.990</text><text x="100.6" y="176.59">0.559</text><text x="81.6" y="181.27">0.990</text><text x="100.6" y="181.27">0.558</text><text x="81.6" y="185.94">0.990</text><text x="100.6" y="185.94">0.557</text><text x="81.6" y="190.62">0.990</text><text x="100.6" y="190.62">0.556</text><text x="81.6" y="195.29">0.990</text><text x="100.6" y="195.29">0.555</text><text x="81.6" y="199.97">0.990</text><text x="100.6" y="199.97">0.554</text><text x="81.6" y="204.65">0.990</text><text x="100.6" y="204.65">0.553</text><text x="81.6" y="209.32">0.990</text><text x="100.6" y="209.32">0.552</text><text x="81.6" y="214.00">0.990</text><text x="100.6" y="214.00">0.551</text><text x="81.6" y="218.67">0.990</text><text x="100.6" y="218.67">0.550</text><text x="81.6" y="223.35">0.990</text><text x="100.6" y="223.35">0.549</text><text x="81.6" y="228.02">0.990</text><text x="100.6" y="228.02">0.548</text><text x="81.6" y="232.70">0.990</text><text x="100.6" y="232.70">0.547</text><text x="81.6" y="237.37">0.990</text><text x="100.6" y="237.37">0.546</text><text x="81.6" y="242.05">0.990</text><text x="100.6" y="242.05">0.545</text><text x="81.6" y="246.72">0.990</text><text x="100.6" y="246.72">0.544</text><text x="81.6" y="251.40">0.990</text><text x="100.6" y="251.40">0.543</text><text x="81.6" y="256.07">0.990</text><text x="100.6" y="256.07">0.542</text><text x="81.6" y="260.75">0.990</text><text x="100.6" y="260.75">0.541</text><text x="81.6" y="265.42">0.990</text><text x="100.6" y="265.42">0.540</text><text x="81.6" y="270.10">0.990</text><text x="100.6" y="270.10">0.539</text><text x="81.6" y="274.77">0.990</text><text x="100.6" y="274.77">0.538</text><text x="81.6" y="279.45">0.990</text><text x="100.6" y="279.45">0.537</text><text x="81.6" y="284.12">0.990</text><text x="100.6" y="284.12">0.536</text><text x="81.6" y="288.80">0.990</text><text x="100.6" y="288.80">0.535</text><text x="81.6" y="293.47">0.990</text><text x="100.6" y="293.47">0.534</text><text x="81.6" y="298.15">0.990</text><text x="100.6" y="298.15">0.533</text><text x="81.6" y="302.82">0.990</text><text x="100.6" y="302.82">0.532</text><text x="81.6" y="307.50">0.990</text><text x="100.6" y="307.50">0.531</text><text x="81.6" y="312.18">0.990</text><text x="100.6" y="312.18">0.530</text><text x="81.6" y="316.85">0.990</text><text x="100.6" y="316.85">0.529</text><text x="81.6" y="321.53">0.990</text><text x="100.6" y="321.53">0.528</text><text x="81.6" y="326.20">0.990</text><text x="100.6" y="326.20">0.527</text><text x="81.6" y="330.88">0.990</text><text x="100.6" y="330.88">0.526</text><text x="81.6" y="335.55">0.990</text><text x="100.6" y="335.55">0.525</text><text x="81.6" y="340.23">0.990</text><text x="100.6" y="340.23">0.524</text><text x="81.6" y="344.90">0.990</text><text x="100.6" y="344.90">0.523</text><text x="81.6" y="349.58">0.990</text><text x="100.6" y="349.58">0.522</text><text x="81.6" y="354.25">0.990</text><text x="100.6" y="354.25">0.521</text><text x="81.6" y="358.93">0.990</text><text x="100.6" y="358.93">0.520</text><text x="81.6" y="363.60">0.990</text><text x="100.6" y="363.60">0.519</text><text x="81.6" y="368.28">0.990</text><text x="100.6" y="368.28">0.518</text><text x="81.6" y="372.95">0.990</text><text x="100.6" y="372.95">0.517</text><text x="81.6" y="377.63">0.990</text><text x="100.6" y="377.63">0.516</text><text x="81.6" y="382.30">0.990</text><text x="100.6" y="382.30">0.515</text><text x="81.6" y="386.98">0.990</text><text x="100.6" y="386.98">0.514</text><text x="81.6" y="391.65">0.990</text><text x="100.6" y="391.65">0.513</text><text x="81.6" y="396.33">0.990</text><text x="100.6" y="396.33">0.512</text><text x="81.6" y="401.00">0.990</text><text x="100.6" y="401.00">0.511</text><text x="81.6" y="405.68">0.990</text><text x="100.6" y="405.68">0.510</text><text x="81.6" y="410.35">0.990</text><text x="100.6" y="410.35">0.509</text><text x="81.6" y="415.03">0.990</text><text x="100.6" y="415.03">0.508</text><text x="81.6" y="419.71">0.990</text><text x="100.6" y="419.71">0.507</text><text x="81.6" y="424.38">0.990</text><text x="100.6" y="424.38">0.506</text><text x="81.6" y="429.06">0.990</text><text x="100.6" y="429.06">0.505</text><text x="81.6" y="433.73">0.990</text><text x="100.6" y="433.73">0.504</text><text x="81.6" y="438.41">0.990</text><text x="100.6" y="438.41">0.503</text><text x="81.6" y="443.08">0.990</text><text x="100.6" y="443.08">0.502</text><text x="81.6" y="447.76">0.990</text><text x="100.6" y="447.76">0.501</text><text x="81.6" y="452.43">0.990</text><text x="100.6" y="452.43">0.500</text><text x="81.6" y="457.11">0.990</text><text x="100.6" y="457.11">0.499</text><text x="81.6" y="461.78">0.990</text><text x="100.6" y="461.78">0.498</text><text x="81.6" y="466.46">0.990</text><text x="100.6" y="466.46">0.497</text><text x="81.6" y="471.13">0.990</text><text x="100.6" y="471.13">0.496</text><text x="81.6" y="475.81">0.990</text><text x="100.6" y="475.81">0.495</text><text x="81.6" y="480.48">0.990</text><text x="100.6" y="480.48">0.494</text><text x="81.6" y="485.16">0.990</text><text x="100.6" y="485.16">0.493</text><text x="81.6" y="489.83">0.990</text><text x="100.6" y="489.83">0.492</text><text x="81.6" y="494.51">0.890</text><text x="100.6" y="494.51">0.491</text><text x="81.6" y="499.18">0.890</text><text x="100.6" y="499.18">0.490</text><text x="81.6" y="503.86">0.990</text><text x="100.6" y="503.86">0.489</text><text x="81.6" y="508.53">0.990</text><text x="100.6" y="508.53">0.488</text><text x="81.6" y="513.21">0.990</text><text x="100.6" y="513.21">0.487</text><text x="81.6" y="517.88">0.990</text><text x="100.6" y="517.88">0.486</text><text x="81.6" y="522.56">0.990</text><text x="100.6" y="522.56">0.485</text><text x="81.6" y="527.24">0.990</text><text x="100.6" y="527.24">0.484</text><text x="81.6" y="531.91">0.990</text><text x="100.6" y="531.91">0.483</text><text x="81.6" y="536.59">0.990</text><text x="100.6" y="536.59">0.482</text><text x="81.6" y="541.26">0.990</text><text x="100.6" y="541.26">0.481</text><text x="81.6" y="545.94">0.890</text><text x="100.6" y="545.94">0.480</text><text x="81.6" y="550.61">0.990</text><text x="100.6" y="550.61">0.479</text><text x="81.6" y="555.29">0.890</text><text x="100.6" y="555.29">0.478</text><text x="81.6" y="559.96">0.890</text><text x="100.6" y="559.96">0.477</text><text x="81.6" y="564.64">0.990</text><text x="100.6" y="564.64">0.476</text><text x="81.6" y="569.31">0.890</text><text x="100.6" y="569.31">0.475</text></g>
<g font-size="3.2" fill="#e8f0f8" stroke="#e8f0f8" stroke-width="0.1" text-anchor="end"><text x="133.50" y="45.64">0.740</text><text x="133.48" y="50.31">0.740</text><text x="133.47" y="54.99">0.739</text><text x="133.45" y="59.66">0.739</text><text x="133.43" y="64.34">0.738</text><text x="133.42" y="69.01">0.738</text><text x="133.40" y="73.69">0.737</text><text x="133.38" y="78.36">0.737</text><text x="133.37" y="83.04">0.736</text><text x="133.35" y="87.71">0.736</text><text x="133.34" y="92.39">0.735</text><text x="133.32" y="97.07">0.735</text><text x="133.30" y="101.74">0.734</text><text x="133.29" y="106.42">0.734</text><text x="133.27" y="111.09">0.733</text><text x="133.25" y="115.77">0.733</text><text x="133.24" y="120.44">0.732</text><text x="133.22" y="125.12">0.732</text><text x="133.20" y="129.79">0.731</text><text x="133.19" y="134.47">0.731</text><text x="133.17" y="139.14">0.730</text><text x="133.15" y="143.82">0.730</text><text x="133.14" y="148.49">0.729</text><text x="133.12" y="153.17">0.729</text><text x="133.10" y="157.84">0.728</text><text x="133.09" y="162.52">0.728</text><text x="133.07" y="167.19">0.727</text><text x="133.05" y="171.87">0.727</text><text x="133.04" y="176.54">0.727</text><text x="133.02" y="181.22">0.726</text><text x="133.00" y="185.89">0.726</text><text x="132.99" y="190.57">0.725</text><text x="132.97" y="195.24">0.725</text><text x="132.96" y="199.92">0.724</text><text x="132.94" y="204.60">0.724</text><text x="132.92" y="209.27">0.723</text><text x="132.91" y="213.95">0.723</text><text x="132.89" y="218.62">0.722</text><text x="132.87" y="223.30">0.722</text><text x="132.86" y="227.97">0.721</text><text x="132.84" y="232.65">0.721</text><text x="132.82" y="237.32">0.720</text><text x="132.81" y="242.00">0.720</text><text x="132.79" y="246.67">0.719</text><text x="132.77" y="251.35">0.719</text><text x="132.76" y="256.02">0.718</text><text x="132.74" y="260.70">0.718</text><text x="132.72" y="265.37">0.717</text><text x="132.71" y="270.05">0.717</text><text x="132.69" y="274.72">0.716</text><text x="132.68" y="279.40">0.716</text><text x="132.66" y="284.07">0.715</text><text x="132.64" y="288.75">0.715</text><text x="132.63" y="293.42">0.714</text><text x="132.61" y="298.10">0.714</text><text x="132.59" y="302.77">0.713</text><text x="132.58" y="307.45">0.713</text><text x="132.56" y="312.13">0.712</text><text x="132.54" y="316.80">0.712</text><text x="132.53" y="321.48">0.711</text><text x="132.51" y="326.15">0.711</text><text x="132.49" y="330.83">0.710</text><text x="132.48" y="335.50">0.710</text><text x="132.46" y="340.18">0.709</text><text x="132.44" y="344.85">0.709</text><text x="132.43" y="349.53">0.708</text><text x="132.41" y="354.20">0.708</text><text x="132.39" y="358.88">0.707</text><text x="132.38" y="363.55">0.707</text><text x="132.36" y="368.23">0.706</text><text x="132.34" y="372.90">0.706</text><text x="132.33" y="377.58">0.705</text><text x="132.31" y="382.25">0.705</text><text x="132.30" y="386.93">0.704</text><text x="132.28" y="391.60">0.704</text><text x="132.26" y="396.28">0.703</text><text x="132.25" y="400.95">0.703</text><text x="132.23" y="405.63">0.702</text><text x="132.21" y="410.30">0.702</text><text x="132.20" y="414.98">0.701</text><text x="132.18" y="419.66">0.701</text><text x="132.16" y="424.33">0.700</text><text x="132.15" y="429.01">0.700</text><text x="132.13" y="433.68">0.699</text><text x="132.11" y="438.36">0.699</text><text x="132.10" y="443.03">0.698</text><text x="132.08" y="447.71">0.698</text><text x="132.06" y="452.38">0.697</text><text x="132.05" y="457.06">0.697</text><text x="132.03" y="461.73">0.696</text><text x="132.01" y="466.41">0.696</text><text x="132.00" y="471.08">0.695</text><text x="131.98" y="475.76">0.695</text><text x="131.97" y="480.43">0.694</text><text x="131.95" y="485.11">0.694</text><text x="131.93" y="489.78">0.694</text><text x="131.92" y="494.46">0.693</text><text x="131.90" y="499.13">0.693</text><text x="131.88" y="503.81">0.692</text><text x="131.87" y="508.48">0.692</text><text x="131.85" y="513.16">0.691</text><text x="131.83" y="517.83">0.691</text><text x="131.82" y="522.51">0.690</text><text x="131.80" y="527.19">0.690</text><text x="131.78" y="531.86">0.689</text><text x="131.77" y="536.54">0.689</text><text x="131.75" y="541.21">0.688</text><text x="131.73" y="545.89">0.688</text><text x="131.72" y="550.56">0.687</text><text x="131.70" y="555.24">0.687</text><text x="131.69" y="559.91">0.686</text><text x="131.00" y="564.59">0.666</text><text x="130.30" y="569.26">0.645</text></g>
<path d="M110.5 570.9H138.8" stroke="#333" stroke-width="0.5"/>
<path d="M110.50 570.9V572.3" stroke="#333" stroke-width="0.5"/>
<path d="M117.20 570.9V572.3" stroke="#333" stroke-width="0.5"/>
<path d="M123.90 570.9V572.3" stroke="#333" stroke-width="0.5"/>
<path d="M130.60 570.9V572.3" stroke="#333" stroke-width="0.5"/>
<path d="M137.30 570.9V572.3" stroke="#333" stroke-width="0.5"/>
<g font-size="4.7" fill="#000" stroke="#000" stroke-width="0.1" text-anchor="middle"><text x="110.6" y="576.6">0</text><text x="117.0" y="576.6">0.2</text><text x="123.3" y="576.6">0.4</text><text x="129.6" y="576.6">0.6</text><text x="135.9" y="576.6">0.8</text></g>
<text x="141" y="156" font-size="9.2" fill="#111">AUC</text>
<defs><linearGradient id="auc" x1="0" y1="0" x2="0" y2="1"><stop offset="0" stop-color="#CB5746"/><stop offset="0.46" stop-color="#ffffff"/><stop offset="1" stop-color="#3d8fc4"/></linearGradient></defs>
<rect x="141.1" y="167" width="5.9" height="30.7" fill="url(#auc)"/>
<g font-size="9.2" fill="#111"><text x="148.6" y="170.3">1</text><text x="148.6" y="179.9">0.8</text><text x="148.6" y="189.2">0.6</text><text x="148.6" y="198.5">0.4</text></g>
<path d="M191.7 48.4V189.0H279" stroke="#3a3a3a" stroke-width="0.85" fill="none"/>
<path d="M189.7 63.6H191.7 M189.7 97.5H191.7 M189.7 131.5H191.7 M189.7 165.4H191.7" stroke="#333" stroke-width="0.75"/>
<path d="M215.5 189.0V191.6M255.4 189.0V191.6" stroke="#333" stroke-width="0.75"/>
<g font-size="9.4" fill="#111" stroke="#111" stroke-width="0.1"><text x="187.6" y="65.9" text-anchor="end">11</text><text x="187.6" y="99.8" text-anchor="end">10</text><text x="187.6" y="133.8" text-anchor="end">9</text><text x="187.6" y="167.70000000000002" text-anchor="end">8</text></g>
<g font-size="10" fill="#111" text-anchor="middle"><text x="215.5" y="199.1">HC</text><text x="255.4" y="199.1">SP</text></g>
<text transform="translate(175.2,113.3) rotate(-90)" font-size="10" fill="#111" text-anchor="middle">RPL18</text>
<path d="M215.5 58.2V54.6H255.4V58.2" stroke="#444" stroke-width="0.6" fill="none"/>
<text x="240.45" y="50.6" font-size="9.5" fill="#111" text-anchor="middle">p &lt; 2.22e−16</text>
<path d="M215.5 60.7V72.1M215.5 86.5V108.0" stroke="#333" stroke-width="0.7"/>
<rect x="201.3" y="72.1" width="28.4" height="14.400000000000006" fill="#1F69A6" stroke="#222" stroke-width="0.7"/>
<path d="M201.3 77.6H229.7" stroke="#111" stroke-width="1.6"/>
<path d="M255.4 66.8V105.0M255.4 130.6V164.8" stroke="#333" stroke-width="0.7"/>
<rect x="241.20000000000002" y="105.0" width="28.4" height="25.599999999999994" fill="#E41A1C" stroke="#222" stroke-width="0.7"/>
<path d="M241.20000000000002 115.5H269.6" stroke="#111" stroke-width="1.6"/>
<circle cx="255.4" cy="170.3" r="1.15" fill="#000"/>
<circle cx="255.4" cy="171.6" r="1.15" fill="#000"/>
<circle cx="255.4" cy="175.7" r="1.15" fill="#000"/>
<circle cx="255.4" cy="177.5" r="1.15" fill="#000"/>
<circle cx="255.4" cy="182.8" r="1.15" fill="#000"/>
<path d="M318.5 48.4V189.0H408.6" stroke="#3a3a3a" stroke-width="0.85" fill="none"/>
<path d="M316.5 74.5H318.5 M316.5 106.5H318.5 M316.5 138.6H318.5 M316.5 170.7H318.5" stroke="#333" stroke-width="0.75"/>
<path d="M342.8 189.0V191.6M384.3 189.0V191.6" stroke="#333" stroke-width="0.75"/>
<g font-size="9.4" fill="#111" stroke="#111" stroke-width="0.1"><text x="314.4" y="76.8" text-anchor="end">7</text><text x="314.4" y="108.8" text-anchor="end">6</text><text x="314.4" y="140.9" text-anchor="end">5</text><text x="314.4" y="173.0" text-anchor="end">4</text></g>
<g font-size="10" fill="#111" text-anchor="middle"><text x="342.8" y="199.1">HC</text><text x="384.3" y="199.1">SP</text></g>
<text transform="translate(304.8,113.3) rotate(-90)" font-size="10" fill="#111" text-anchor="middle">PRPF8</text>
<path d="M342.8 58.2V54.6H384.3V58.2" stroke="#444" stroke-width="0.6" fill="none"/>
<text x="369.55" y="50.6" font-size="9.5" fill="#111" text-anchor="middle">p &lt; 2.22e−16</text>
<path d="M342.8 60.7V75.5M342.8 93.4V111.8" stroke="#333" stroke-width="0.7"/>
<rect x="328.3" y="75.5" width="29.0" height="17.900000000000006" fill="#1F69A6" stroke="#222" stroke-width="0.7"/>
<path d="M328.3 83.5H357.3" stroke="#111" stroke-width="1.6"/>
<path d="M384.3 81.5V110.0M384.3 129.3V154.1" stroke="#333" stroke-width="0.7"/>
<rect x="369.8" y="110.0" width="29.0" height="19.30000000000001" fill="#E41A1C" stroke="#222" stroke-width="0.7"/>
<path d="M369.8 119.8H398.8" stroke="#111" stroke-width="1.6"/>
<circle cx="384.3" cy="67.4" r="1.15" fill="#000"/>
<circle cx="384.3" cy="76.2" r="1.15" fill="#000"/>
<circle cx="384.3" cy="77.4" r="1.15" fill="#000"/>
<circle cx="384.3" cy="79.6" r="1.15" fill="#000"/>
<circle cx="384.3" cy="81.0" r="1.15" fill="#000"/>
<circle cx="384.3" cy="162.0" r="1.15" fill="#000"/>
<circle cx="384.3" cy="164.9" r="1.15" fill="#000"/>
<circle cx="384.3" cy="165.6" r="1.15" fill="#000"/>
<circle cx="384.3" cy="182.9" r="1.15" fill="#000"/>
<path d="M447.6 48.4V189.0H539" stroke="#3a3a3a" stroke-width="0.85" fill="none"/>
<path d="M445.6 67.4H447.6 M445.6 97.4H447.6 M445.6 127.5H447.6 M445.6 157.6H447.6 M445.6 187.7H447.6" stroke="#333" stroke-width="0.75"/>
<path d="M472.6 189.0V191.6M514.0 189.0V191.6" stroke="#333" stroke-width="0.75"/>
<g font-size="9.4" fill="#111" stroke="#111" stroke-width="0.1"><text x="443.5" y="69.7" text-anchor="end">6</text><text x="443.5" y="99.7" text-anchor="end">5</text><text x="443.5" y="129.8" text-anchor="end">4</text><text x="443.5" y="159.9" text-anchor="end">3</text><text x="443.5" y="190.0" text-anchor="end">2</text></g>
<g font-size="10" fill="#111" text-anchor="middle"><text x="472.6" y="199.1">HC</text><text x="514.0" y="199.1">SP</text></g>
<text transform="translate(434.3,113.3) rotate(-90)" font-size="10" fill="#111" text-anchor="middle">NUP93</text>
<path d="M472.6 58.2V54.6H514.0V58.2" stroke="#444" stroke-width="0.6" fill="none"/>
<text x="498.3" y="50.6" font-size="9.5" fill="#111" text-anchor="middle">p &lt; 2.22e−16</text>
<path d="M472.6 60.7V80.6M472.6 103.7V124.7" stroke="#333" stroke-width="0.7"/>
<rect x="458.3" y="80.6" width="28.6" height="23.10000000000001" fill="#1F69A6" stroke="#222" stroke-width="0.7"/>
<path d="M458.3 93.4H486.90000000000003" stroke="#111" stroke-width="1.6"/>
<path d="M514.0 95.0V127.4M514.0 148.8V174.4" stroke="#333" stroke-width="0.7"/>
<rect x="499.7" y="127.4" width="28.6" height="21.400000000000006" fill="#E41A1C" stroke="#222" stroke-width="0.7"/>
<path d="M499.7 138.4H528.3" stroke="#111" stroke-width="1.6"/>
<circle cx="514.0" cy="72.7" r="1.15" fill="#000"/>
<circle cx="514.0" cy="87.3" r="1.15" fill="#000"/>
<circle cx="514.0" cy="88.2" r="1.15" fill="#000"/>
<circle cx="514.0" cy="89.1" r="1.15" fill="#000"/>
<circle cx="514.0" cy="90.0" r="1.15" fill="#000"/>
<circle cx="514.0" cy="90.9" r="1.15" fill="#000"/>
<circle cx="514.0" cy="91.8" r="1.15" fill="#000"/>
<circle cx="514.0" cy="92.7" r="1.15" fill="#000"/>
<circle cx="514.0" cy="93.6" r="1.15" fill="#000"/>
<circle cx="514.0" cy="94.5" r="1.15" fill="#000"/>
<circle cx="514.0" cy="183.0" r="1.15" fill="#000"/>
<path d="M577.7 48.4V189.0H668" stroke="#3a3a3a" stroke-width="0.85" fill="none"/>
<path d="M575.7 58.3H577.7 M575.7 89.1H577.7 M575.7 119.8H577.7 M575.7 150.6H577.7 M575.7 181.3H577.7" stroke="#333" stroke-width="0.75"/>
<path d="M602.4 189.0V191.6M643.7 189.0V191.6" stroke="#333" stroke-width="0.75"/>
<g font-size="9.4" fill="#111" stroke="#111" stroke-width="0.1"><text x="573.6" y="60.599999999999994" text-anchor="end">7</text><text x="573.6" y="91.39999999999999" text-anchor="end">6</text><text x="573.6" y="122.1" text-anchor="end">5</text><text x="573.6" y="152.9" text-anchor="end">4</text><text x="573.6" y="183.60000000000002" text-anchor="end">3</text></g>
<g font-size="10" fill="#111" text-anchor="middle"><text x="602.4" y="199.1">HC</text><text x="643.7" y="199.1">SP</text></g>
<text transform="translate(565.6,115) rotate(-90)" font-size="10" fill="#111" text-anchor="middle">CUL1</text>
<path d="M602.4 58.2V54.6H643.7V58.2" stroke="#444" stroke-width="0.6" fill="none"/>
<text x="628.05" y="50.6" font-size="9.5" fill="#111" text-anchor="middle">p &lt; 2.22e−16</text>
<path d="M602.4 75.1V93.8M602.4 106.9V121.3" stroke="#333" stroke-width="0.7"/>
<rect x="587.8" y="93.8" width="29.2" height="13.100000000000009" fill="#1F69A6" stroke="#222" stroke-width="0.7"/>
<path d="M587.8 99.3H617.0" stroke="#111" stroke-width="1.6"/>
<circle cx="602.4" cy="128.7" r="1.15" fill="#000"/>
<path d="M643.7 94.2V122.8M643.7 140.4V166.2" stroke="#333" stroke-width="0.7"/>
<rect x="629.1" y="122.8" width="29.2" height="17.60000000000001" fill="#E41A1C" stroke="#222" stroke-width="0.7"/>
<path d="M629.1 131.3H658.3000000000001" stroke="#111" stroke-width="1.6"/>
<circle cx="643.7" cy="60.8" r="1.15" fill="#000"/>
<circle cx="643.7" cy="71.3" r="1.15" fill="#000"/>
<circle cx="643.7" cy="84.7" r="1.15" fill="#000"/>
<circle cx="643.7" cy="85.6" r="1.15" fill="#000"/>
<circle cx="643.7" cy="86.5" r="1.15" fill="#000"/>
<circle cx="643.7" cy="87.4" r="1.15" fill="#000"/>
<circle cx="643.7" cy="88.3" r="1.15" fill="#000"/>
<circle cx="643.7" cy="89.2" r="1.15" fill="#000"/>
<circle cx="643.7" cy="90.1" r="1.15" fill="#000"/>
<circle cx="643.7" cy="91.0" r="1.15" fill="#000"/>
<circle cx="643.7" cy="91.9" r="1.15" fill="#000"/>
<circle cx="643.7" cy="92.8" r="1.15" fill="#000"/>
<circle cx="643.7" cy="166.5" r="1.15" fill="#000"/>
<circle cx="643.7" cy="167.4" r="1.15" fill="#000"/>
<circle cx="643.7" cy="168.3" r="1.15" fill="#000"/>
<circle cx="643.7" cy="169.2" r="1.15" fill="#000"/>
<circle cx="643.7" cy="170.1" r="1.15" fill="#000"/>
<circle cx="643.7" cy="171.0" r="1.15" fill="#000"/>
<circle cx="643.7" cy="171.9" r="1.15" fill="#000"/>
<circle cx="643.7" cy="172.8" r="1.15" fill="#000"/>
<circle cx="643.7" cy="173.7" r="1.15" fill="#000"/>
<circle cx="643.7" cy="174.6" r="1.15" fill="#000"/>
<circle cx="643.7" cy="182.7" r="1.15" fill="#000"/>
<rect x="211.6" y="225.8" width="157.70000000000002" height="156.89999999999998" fill="none" stroke="#a0a0a0" stroke-width="0.9"/>
<path d="M208.4 377.3H211.6 M208.4 348.2H211.6 M208.4 319.0H211.6 M208.4 289.9H211.6 M208.4 260.7H211.6 M208.4 231.5H211.6 M217.6 382.7V386.0 M246.7 382.7V386.0 M275.9 382.7V386.0 M305.0 382.7V386.0 M334.2 382.7V386.0 M363.4 382.7V386.0" stroke="#555" stroke-width="0.8"/>
<g font-size="10" fill="#222"><text transform="translate(202.3,375.5) rotate(-90)" text-anchor="middle">0.0</text><text transform="translate(202.3,346.4) rotate(-90)" text-anchor="middle">0.2</text><text transform="translate(202.3,317.2) rotate(-90)" text-anchor="middle">0.4</text><text transform="translate(202.3,288.09999999999997) rotate(-90)" text-anchor="middle">0.6</text><text transform="translate(202.3,258.9) rotate(-90)" text-anchor="middle">0.8</text><text transform="translate(202.3,229.7) rotate(-90)" text-anchor="middle">1.0</text><text x="219.0" y="398.5" text-anchor="middle">1.0</text><text x="248.1" y="398.5" text-anchor="middle">0.8</text><text x="277.29999999999995" y="398.5" text-anchor="middle">0.6</text><text x="306.4" y="398.5" text-anchor="middle">0.4</text><text x="335.59999999999997" y="398.5" text-anchor="middle">0.2</text><text x="364.79999999999995" y="398.5" text-anchor="middle">0.0</text></g>
<text transform="translate(189.2,302.5) rotate(-90)" font-size="7.8" fill="#222" text-anchor="middle">Sensitivity</text>
<text x="295.9" y="411" font-size="9.4" fill="#222" text-anchor="middle">Specificity</text>
<path d="M212.1 382.2L369.0 226.10000000000002" stroke="#c8c8c8" stroke-width="0.8"/>
<path d="M217.5 377.3 L217.5 266.0 L219.3 264.0 L220.0 256.0 L222.3 255.6 L222.3 247.0 L223.6 247.0 L223.6 242.4 L234.8 242.4 L234.8 241.2 L240.0 240.2 L250.0 238.2 L262.0 235.4 L280.0 234.0 L300.0 233.0 L330.0 232.0 L363.6 231.5" stroke="#F4C02A" stroke-width="1.6" fill="none"/>
<path d="M217.5 377.3 L217.5 275.0 L221.2 272.5 L221.2 263.0 L224.0 263.0 L224.0 258.0 L226.4 258.0 L226.4 256.2 L230.0 256.2 L230.0 249.6 L231.8 249.6 L231.8 246.0 L234.2 246.0 L234.2 244.8 L236.5 244.8 L237.8 243.6 L245.0 241.0 L255.0 238.8 L265.0 236.3 L280.0 234.6 L300.0 233.4 L330.0 232.2 L363.6 231.5" stroke="#3D8BC8" stroke-width="1.6" fill="none"/>
<path d="M217.5 377.3 L217.5 281.0 L219.3 281.0 L219.3 266.5 L221.6 266.5 L221.6 264.5 L224.0 264.5 L224.0 262.9 L226.0 262.9 L226.0 259.3 L227.6 259.3 L227.6 257.4 L230.0 257.4 L230.0 255.6 L231.2 255.6 L231.2 253.8 L232.4 253.8 L232.4 252.0 L236.0 252.0 L236.0 249.8 L237.8 249.8 L237.8 243.6 L240.8 243.6 L240.8 241.8 L250.0 239.4 L260.0 236.8 L275.0 234.8 L300.0 233.2 L330.0 232.2 L363.6 231.5" stroke="#E8201E" stroke-width="1.6" fill="none"/>
<path d="M217.5 377.3 L217.5 293.0 L220.0 293.0 L220.4 261.5 L222.0 260.5 L222.0 252.0 L224.0 252.0 L224.0 246.8 L230.0 246.8 L230.0 244.2 L234.8 244.2 L234.8 242.4 L240.0 241.0 L250.0 240.0 L262.0 238.8 L275.0 237.5 L286.0 235.6 L300.0 234.5 L320.0 233.5 L345.0 232.3 L363.6 231.5" stroke="#3A8C3A" stroke-width="1.6" fill="none"/>
<path d="M217.4 377.3 L217.4 238.6 L220.0 238.1 L224.0 237.6 L228.2 237.2 L228.6 235.6 L240.0 234.4 L262.0 232.8 L290.0 232.0 L330.0 231.6 L363.6 231.4" stroke="#16198A" stroke-width="1.7" fill="none"/>
<path d="M260.4 341.3H273.1" stroke="#3D8BC8" stroke-width="1"/>
<text x="279.4" y="343.90000000000003" font-size="9.45" fill="#222">PRPF8, AUC=0.961</text>
<path d="M260.4 350.9H273.1" stroke="#F4C02A" stroke-width="1"/>
<text x="279.4" y="353.5" font-size="9.45" fill="#222">NUP93, AUC=0.975</text>
<path d="M260.4 361.0H273.1" stroke="#E8201E" stroke-width="1"/>
<text x="279.4" y="363.6" font-size="9.45" fill="#222">RPL18, AUC=0.957</text>
<path d="M260.4 370.9H273.1" stroke="#3A8C3A" stroke-width="1"/>
<text x="279.4" y="373.5" font-size="9.45" fill="#222">CUL1, AUC=0.957</text>
<text x="564.6" y="231.6" font-size="9.4" fill="#111" text-anchor="middle">Prediction Nomogram</text>
<g font-size="9.5" fill="#111" stroke="#111" stroke-width="0.1"><text x="406.3" y="242.20000000000002">Points</text><text x="406.3" y="256.9">CUL1*</text><text x="406.3" y="279.0">RPL18*</text><text x="406.3" y="300.2">NUP93***</text><text x="406.3" y="321.79999999999995">PRPF8***</text><text x="406.3" y="342.09999999999997">Total points</text><text x="419.8" y="375.6">Predict</text></g>
<path d="M511.9 242V303.5M516.3 242V325.4M540.2 242V260.1M542.6 242V283.2" stroke="#f0b8b8" stroke-width="0.6" stroke-dasharray="1.5,1.5"/>
<path d="M456.8 242.2H645.6" stroke="#9a9a9a" stroke-width="0.9"/><path d="M458.2 242.2V243.79999999999998 M478.1 242.2V243.79999999999998 M496.8 242.2V243.79999999999998 M515.2 242.2V243.79999999999998 M534.0 242.2V243.79999999999998 M552.8 242.2V243.79999999999998 M571.8 242.2V243.79999999999998 M590.8 242.2V243.79999999999998 M609.8 242.2V243.79999999999998 M628.9 242.2V243.79999999999998 M649.2 242.2V243.79999999999998" stroke="#9a9a9a" stroke-width="0.6"/><g font-size="9.5" fill="#111" stroke="#111" stroke-width="0.12"><text x="458.2" y="250.9" text-anchor="middle">0</text><text x="478.1" y="250.9" text-anchor="middle">10</text><text x="496.8" y="250.9" text-anchor="middle">20</text><text x="515.2" y="250.9" text-anchor="middle">30</text><text x="534.0" y="250.9" text-anchor="middle">40</text><text x="552.8" y="250.9" text-anchor="middle">50</text><text x="571.8" y="250.9" text-anchor="middle">60</text><text x="590.8" y="250.9" text-anchor="middle">70</text><text x="609.8" y="250.9" text-anchor="middle">80</text><text x="628.9" y="250.9" text-anchor="middle">90</text><text x="649.2" y="250.9" text-anchor="middle">100</text></g>
<path d="M505.9 261.2H615.5" stroke="#444" stroke-width="0.9"/><path d="M519.3 261.2V262.8 M544.7 261.2V262.8 M569.6 261.2V262.8 M594.5 261.2V262.8 M619.4 261.2V262.8" stroke="#444" stroke-width="0.6"/><g font-size="9.5" fill="#111" stroke="#111" stroke-width="0.12"><text x="519.3" y="269.9" text-anchor="middle">6.5</text><text x="544.7" y="269.9" text-anchor="middle">5.5</text><text x="569.6" y="269.9" text-anchor="middle">4.5</text><text x="594.5" y="269.9" text-anchor="middle">3.5</text><text x="619.4" y="269.9" text-anchor="middle">2.5</text></g>
<path d="M521.0 284.0H624.6" stroke="#444" stroke-width="0.9"/><path d="M526.3 284.0V285.6 M551.6 284.0V285.6 M575.3 284.0V285.6 M600.6 284.0V285.6 M625.7 284.0V285.6" stroke="#444" stroke-width="0.6"/><g font-size="9.5" fill="#111" stroke="#111" stroke-width="0.12"><text x="526.3" y="291.6" text-anchor="middle">11</text><text x="551.6" y="291.6" text-anchor="middle">10</text><text x="575.3" y="291.6" text-anchor="middle">9</text><text x="600.6" y="291.6" text-anchor="middle">8</text><text x="625.7" y="291.6" text-anchor="middle">7</text></g>
<path d="M444.6 305.3H638.6" stroke="#444" stroke-width="0.9"/><path d="M447.9 305.3V306.90000000000003 M467.3 305.3V306.90000000000003 M491.3 305.3V306.90000000000003 M510.0 305.3V306.90000000000003 M534.1 305.3V306.90000000000003 M554.2 305.3V306.90000000000003 M577.5 305.3V306.90000000000003 M596.8 305.3V306.90000000000003 M620.5 305.3V306.90000000000003 M639.8 305.3V306.90000000000003" stroke="#444" stroke-width="0.6"/><g font-size="9.5" fill="#111" stroke="#111" stroke-width="0.12"><text x="447.9" y="313.4" text-anchor="middle">6.5</text><text x="467.3" y="313.4" text-anchor="middle">6</text><text x="491.3" y="313.4" text-anchor="middle">5.5</text><text x="510.0" y="313.4" text-anchor="middle">5</text><text x="534.1" y="313.4" text-anchor="middle">4.5</text><text x="554.2" y="313.4" text-anchor="middle">4</text><text x="577.5" y="313.4" text-anchor="middle">3.5</text><text x="596.8" y="313.4" text-anchor="middle">3</text><text x="620.5" y="313.4" text-anchor="middle">2.5</text><text x="639.8" y="313.4" text-anchor="middle">2</text></g>
<path d="M486.9 327.0H650.0" stroke="#444" stroke-width="0.9"/><path d="M491.0 327.0V328.6 M508.9 327.0V328.6 M530.8 327.0V328.6 M549.7 327.0V328.6 M571.9 327.0V328.6 M590.0 327.0V328.6 M612.6 327.0V328.6 M630.7 327.0V328.6 M654.5 327.0V328.6" stroke="#444" stroke-width="0.6"/><g font-size="9.5" fill="#111" stroke="#111" stroke-width="0.12"><text x="491.0" y="335.7" text-anchor="middle">7.5</text><text x="508.9" y="335.7" text-anchor="middle">7</text><text x="530.8" y="335.7" text-anchor="middle">6.5</text><text x="549.7" y="335.7" text-anchor="middle">6</text><text x="571.9" y="335.7" text-anchor="middle">5.5</text><text x="590.0" y="335.7" text-anchor="middle">5</text><text x="612.6" y="335.7" text-anchor="middle">4.5</text><text x="630.7" y="335.7" text-anchor="middle">4</text><text x="654.5" y="335.7" text-anchor="middle">3.5</text></g>
<path d="M455.2 359.3H671.4" stroke="#8a8a8a" stroke-width="0.9"/><path d="M458.2 359.3V360.90000000000003 M503.0 359.3V360.90000000000003 M546.0 359.3V360.90000000000003 M590.0 359.3V360.90000000000003 M634.1 359.3V360.90000000000003 M676.2 359.3V360.90000000000003" stroke="#8a8a8a" stroke-width="0.6"/><g font-size="9.5" fill="#111" stroke="#111" stroke-width="0.12"><text x="458.2" y="368.8" text-anchor="middle">100</text><text x="503.0" y="368.8" text-anchor="middle">150</text><text x="546.0" y="368.8" text-anchor="middle">200</text><text x="590.0" y="368.8" text-anchor="middle">250</text><text x="634.1" y="368.8" text-anchor="middle">300</text><text x="676.2" y="368.8" text-anchor="middle">350</text></g>
<path d="M455.6 376.8H558.5" stroke="#8a8a8a" stroke-width="0.9"/><path d="" stroke="#8a8a8a" stroke-width="0.6"/><g font-size="9.5" fill="#111" stroke="#111" stroke-width="0.12"></g>
<g font-size="9.7" fill="#111" stroke="#111" stroke-width="0.12" text-anchor="middle"><text x="447.2" y="386.0">0.002</text><text x="472.3" y="386.0">0.015</text><text x="493.4" y="386.0">0.1</text><text x="511.2" y="386.0">0.6</text><text x="527.0" y="386.0">0.92</text><text x="547.4" y="386.0">0.99</text><text x="570.8" y="386.0">0.998</text></g>
<path d="M531.5 255.3H554.4M570.7 255.3H593.4" stroke="#4a4af5" stroke-width="0.7" stroke-dasharray="1,1.6" fill="none"/><path d="M531.5 253.5V257.1M593.4 253.5V257.1" stroke="#4a4af5" stroke-width="0.7"/><rect x="554.4" y="250.9" width="16.300000000000068" height="8.400000000000006" fill="#e8e8e8" stroke="#6d6df5" stroke-width="0.8"/><path d="M562.8 250.9V259.3" stroke="#2a2ae8" stroke-width="1.6"/><path d="M521.0 276.6H551.5M572.5 276.6H602.9" stroke="#4a4af5" stroke-width="0.7" stroke-dasharray="1,1.6" fill="none"/><path d="M521.0 274.8V278.40000000000003M602.9 274.8V278.40000000000003" stroke="#4a4af5" stroke-width="0.7"/><rect x="551.5" y="272.2" width="21.0" height="8.800000000000011" fill="#e8e8e8" stroke="#6d6df5" stroke-width="0.8"/><path d="M560.5 272.2V281.0" stroke="#2a2ae8" stroke-width="1.6"/><path d="M494.5 298.5H546.3M581.6 298.5H630.4" stroke="#4a4af5" stroke-width="0.7" stroke-dasharray="1,1.6" fill="none"/><path d="M494.5 296.7V300.3M630.4 296.7V300.3" stroke="#4a4af5" stroke-width="0.7"/><rect x="546.3" y="294.3" width="35.30000000000007" height="8.800000000000011" fill="#e8e8e8" stroke="#6d6df5" stroke-width="0.8"/><path d="M565.5 294.3V303.1" stroke="#2a2ae8" stroke-width="1.6"/><path d="M514.3 320.3H550.2M575.8 320.3H608.5" stroke="#4a4af5" stroke-width="0.7" stroke-dasharray="1,1.6" fill="none"/><path d="M514.3 318.5V322.1M608.5 318.5V322.1" stroke="#4a4af5" stroke-width="0.7"/><rect x="550.2" y="316.0" width="25.59999999999991" height="8.699999999999989" fill="#e8e8e8" stroke="#6d6df5" stroke-width="0.8"/><path d="M563.5 316.0V324.7" stroke="#2a2ae8" stroke-width="1.6"/><path d="M490.3 349.0H545.4M582.7 349.0H637.0" stroke="#4a4af5" stroke-width="0.7" stroke-dasharray="1,1.6" fill="none"/><path d="M490.3 347.2V350.8M637.0 347.2V350.8" stroke="#4a4af5" stroke-width="0.7"/><rect x="545.4" y="344.5" width="37.30000000000007" height="9.0" fill="#e8e8e8" stroke="#6d6df5" stroke-width="0.8"/><path d="M565.5 344.5V353.5" stroke="#2a2ae8" stroke-width="1.6"/>
<g fill="none" stroke="#2a2af0" stroke-width="0.85"><circle cx="508.0" cy="252.9" r="1.95"/><circle cx="515.9" cy="252.9" r="1.95"/><circle cx="519.0" cy="252.9" r="1.95"/><circle cx="521.2" cy="252.9" r="1.95"/><circle cx="523.6" cy="252.9" r="1.95"/><circle cx="525.5" cy="252.9" r="1.95"/><circle cx="527.4" cy="252.9" r="1.95"/><circle cx="529.6" cy="252.9" r="1.95"/><circle cx="531.5" cy="252.9" r="1.95"/><circle cx="533.3" cy="252.9" r="1.95"/><circle cx="534.6" cy="252.9" r="1.95"/><circle cx="595.0" cy="252.9" r="1.95"/><circle cx="597.0" cy="252.9" r="1.95"/><circle cx="599.5" cy="252.9" r="1.95"/><circle cx="607.4" cy="252.9" r="1.95"/><circle cx="604.9" cy="276.0" r="1.95"/><circle cx="606.6" cy="276.0" r="1.95"/><circle cx="608.4" cy="276.0" r="1.95"/><circle cx="612.3" cy="276.0" r="1.95"/><circle cx="616.0" cy="276.0" r="1.95"/><circle cx="459.0" cy="296.4" r="1.95"/><circle cx="464.0" cy="296.4" r="1.95"/><circle cx="470.6" cy="296.4" r="1.95"/><circle cx="473.0" cy="296.4" r="1.95"/><circle cx="475.9" cy="296.4" r="1.95"/><circle cx="478.6" cy="296.4" r="1.95"/><circle cx="481.4" cy="296.4" r="1.95"/><circle cx="484.0" cy="296.4" r="1.95"/><circle cx="486.7" cy="296.4" r="1.95"/><circle cx="489.0" cy="296.4" r="1.95"/><circle cx="491.5" cy="296.4" r="1.95"/><circle cx="493.6" cy="296.4" r="1.95"/><circle cx="495.6" cy="296.4" r="1.95"/><circle cx="492.0" cy="318.3" r="1.95"/><circle cx="495.4" cy="318.3" r="1.95"/><circle cx="497.8" cy="318.3" r="1.95"/><circle cx="500.3" cy="318.3" r="1.95"/><circle cx="502.6" cy="318.3" r="1.95"/><circle cx="505.0" cy="318.3" r="1.95"/><circle cx="507.4" cy="318.3" r="1.95"/><circle cx="509.8" cy="318.3" r="1.95"/><circle cx="512.2" cy="318.3" r="1.95"/><circle cx="620.7" cy="318.3" r="1.95"/><circle cx="624.3" cy="318.3" r="1.95"/><circle cx="626.2" cy="318.3" r="1.95"/><circle cx="647.2" cy="318.3" r="1.95"/><circle cx="458.6" cy="346.6" r="1.95"/><circle cx="460.8" cy="346.6" r="1.95"/><circle cx="463.1" cy="346.6" r="1.95"/><circle cx="465.6" cy="346.6" r="1.95"/><circle cx="468.0" cy="346.6" r="1.95"/><circle cx="470.0" cy="346.6" r="1.95"/><circle cx="471.8" cy="346.6" r="1.95"/><circle cx="474.3" cy="346.6" r="1.95"/><circle cx="476.8" cy="346.6" r="1.95"/><circle cx="479.2" cy="346.6" r="1.95"/><circle cx="481.6" cy="346.6" r="1.95"/><circle cx="484.0" cy="346.6" r="1.95"/><circle cx="486.4" cy="346.6" r="1.95"/><circle cx="488.6" cy="346.6" r="1.95"/><circle cx="490.8" cy="346.6" r="1.95"/><circle cx="492.4" cy="346.6" r="1.95"/><circle cx="647.2" cy="346.6" r="1.95"/></g>
<g fill="#ee0000"><circle cx="513.1" cy="240.6" r="2.0"/><circle cx="517.7" cy="240.6" r="2.0"/><circle cx="541.1" cy="240.6" r="2.0"/><circle cx="543.5" cy="240.6" r="2.0"/><circle cx="541.1" cy="260.1" r="2.0"/><circle cx="543.5" cy="283.2" r="2.0"/><circle cx="513.0" cy="303.5" r="2.0"/><circle cx="517.6" cy="325.4" r="2.0"/><circle cx="499.0" cy="359.6" r="2.0"/></g>
<path d="M499 359.8V374" stroke="#ee0000" stroke-width="1"/><path d="M496.9 372.4L499 377L501.1 372.4Z" fill="#ee0000"/>
<text x="501.5" y="355.8" font-size="9.4" fill="#ee1111" text-anchor="middle">150</text>
<text x="487.6" y="373.9" font-size="9.4" fill="#ee1111" text-anchor="middle">0.274</text>
<path d="M209.8 523.3H349 M214.8 422.5V531 M209.8 504.6H349 M240.5 422.5V531 M209.8 485.8H349 M266.2 422.5V531 M209.8 467.1H349 M291.9 422.5V531 M209.8 448.3H349 M317.6 422.5V531 M209.8 429.6H349 M343.3 422.5V531" stroke="#ececec" stroke-width="0.8"/>
<path d="M209.8 523.3V429.6 M206.8 523.3H209.8 M206.8 504.6H209.8 M206.8 485.8H209.8 M206.8 467.1H209.8 M206.8 448.3H209.8 M206.8 429.6H209.8" stroke="#666" stroke-width="0.8"/>
<g font-size="10" fill="#222"><text transform="translate(202.3,520.4) rotate(-90)" text-anchor="middle">0.0</text><text transform="translate(202.3,501.7) rotate(-90)" text-anchor="middle">0.2</text><text transform="translate(202.3,482.9) rotate(-90)" text-anchor="middle">0.4</text><text transform="translate(202.3,464.2) rotate(-90)" text-anchor="middle">0.6</text><text transform="translate(202.3,445.4) rotate(-90)" text-anchor="middle">0.8</text><text transform="translate(202.3,426.7) rotate(-90)" text-anchor="middle">1.0</text></g>
<text transform="translate(188.3,467.0) rotate(-90)" font-size="9.4" fill="#222" text-anchor="middle">Net Benefit</text>
<path d="M214.8 532.2H343.3 M214.8 532.2V535.7 M240.5 532.2V535.7 M266.2 532.2V535.7 M291.9 532.2V535.7 M317.6 532.2V535.7 M343.3 532.2V535.7" stroke="#666" stroke-width="0.8"/>
<g font-size="10" fill="#222" text-anchor="middle"><text x="217.4" y="544.6">0.0</text><text x="243.1" y="544.6">0.2</text><text x="268.8" y="544.6">0.4</text><text x="294.5" y="544.6">0.6</text><text x="320.2" y="544.6">0.8</text><text x="345.9" y="544.6">1.0</text></g>
<text x="282.5" y="554.2" font-size="9.4" fill="#222" text-anchor="middle">Threshold probability</text>
<path d="M216.1 558.4H342.0 M216.1 558.4V561.6 M240.5 558.4V561.6 M266.2 558.4V561.6 M291.9 558.4V561.6 M317.6 558.4V561.6 M342.0 558.4V561.6" stroke="#666" stroke-width="0.8"/>
<g font-size="10" fill="#222" text-anchor="middle"><text x="220.3" y="570.6">1:100</text><text x="243.1" y="570.6">1:4</text><text x="268.8" y="570.6">2:3</text><text x="294.5" y="570.6">3:2</text><text x="320.2" y="570.6">4:1</text><text x="344.6" y="570.6">100:1</text></g>
<text x="285.6" y="581" font-size="9.3" fill="#222" text-anchor="middle">Cost:Benefit Ratio</text>
<path d="M214.8 523.3H342.0" stroke="#7a7a7a" stroke-width="0.9"/>
<path d="M214.8 435.6 L216.1 435.7 L217.4 435.7 L218.7 435.8 L219.9 435.8 L221.2 435.9 L222.5 436.0 L223.8 436.0 L225.1 436.1 L226.4 436.2 L227.7 436.3 L228.9 436.3 L230.2 436.4 L231.5 436.5 L232.8 436.6 L234.1 436.7 L235.4 436.7 L236.6 436.8 L237.9 436.9 L239.2 437.0 L240.5 437.1 L241.8 437.2 L243.1 437.3 L244.4 437.4 L245.6 437.5 L246.9 437.6 L248.2 437.7 L249.5 437.8 L250.8 437.9 L252.1 438.0 L253.4 438.2 L254.6 438.3 L255.9 438.4 L257.2 438.6 L258.5 438.7 L259.8 438.8 L261.1 439.0 L262.3 439.1 L263.6 439.3 L264.9 439.4 L266.2 439.6 L267.5 439.8 L268.8 439.9 L270.1 440.1 L271.3 440.3 L272.6 440.5 L273.9 440.7 L275.2 440.9 L276.5 441.1 L277.8 441.4 L279.1 441.6 L280.3 441.8 L281.6 442.1 L282.9 442.4 L284.2 442.6 L285.5 442.9 L286.8 443.2 L288.0 443.5 L289.3 443.9 L290.6 444.2 L291.9 444.6 L293.2 445.0 L294.5 445.4 L295.8 445.8 L297.0 446.3 L298.3 446.7 L299.6 447.2 L300.9 447.8 L302.2 448.3 L303.5 448.9 L304.8 449.6 L306.0 450.3 L307.3 451.0 L308.6 451.8 L309.9 452.7 L311.2 453.6 L312.5 454.6 L313.7 455.7 L315.0 456.9 L316.3 458.2 L317.6 459.6 L318.9 461.2 L320.2 462.9 L321.5 464.9 L322.7 467.1 L324.0 469.6 L325.3 472.4 L326.6 475.7 L327.9 479.6 L329.2 484.1 L330.5 489.6 L331.7 496.2 L333.0 504.6 L334.3 515.3 L335.6 529.5" stroke="#bdbdbd" stroke-width="0.9" fill="none"/>
<path d="M214.7 435.4 L256.5 436.8 L288.6 438.4 L314.3 440.0 L322.0 440.6 L325.6 441.2 L327.4 442.6 L329.5 441.6 L331.5 440.6 L334.5 440.2 L337.0 441.0 L339.4 443.4 L341.2 447.0 L342.6 452.2" stroke="#e8302a" stroke-width="1.1" fill="none"/>
<rect x="228.3" y="478.3" width="45" height="31.6" fill="#fff" stroke="#777" stroke-width="0.8"/>
<path d="M234.4 486.6H246.2" stroke="#e8302a" stroke-width="1.1"/><path d="M234.4 494.2H246.2" stroke="#c8c8c8" stroke-width="1"/><path d="M234.4 502.3H246.2" stroke="#7a7a7a" stroke-width="1"/>
<g font-size="9.1" fill="#111"><text x="248.6" y="489.9">Model</text><text x="248.6" y="497.5">All</text><text x="248.6" y="505.6">None</text></g>
<rect x="381.6" y="429.6" width="141.79999999999995" height="121.39999999999998" fill="none" stroke="#8a8a8a" stroke-width="0.9"/>
<path d="M378.40000000000003 547.6H381.6 M386.8 551.0V554.4 M378.40000000000003 525.0H381.6 M413.0 551.0V554.4 M378.40000000000003 502.4H381.6 M439.2 551.0V554.4 M378.40000000000003 479.9H381.6 M465.5 551.0V554.4 M378.40000000000003 457.3H381.6 M491.7 551.0V554.4 M378.40000000000003 434.7H381.6 M517.9 551.0V554.4" stroke="#666" stroke-width="0.8"/>
<g font-size="10" fill="#222"><text transform="translate(374.6,544.8) rotate(-90)" text-anchor="middle">0.0</text><text transform="translate(374.6,522.2) rotate(-90)" text-anchor="middle">0.2</text><text transform="translate(374.6,499.6) rotate(-90)" text-anchor="middle">0.4</text><text transform="translate(374.6,477.1) rotate(-90)" text-anchor="middle">0.6</text><text transform="translate(374.6,454.5) rotate(-90)" text-anchor="middle">0.8</text><text transform="translate(374.6,431.9) rotate(-90)" text-anchor="middle">1.0</text></g>
<g font-size="10" fill="#222" text-anchor="middle"><text x="389.4" y="564.2">0.0</text><text x="415.6" y="564.2">0.2</text><text x="441.8" y="564.2">0.4</text><text x="468.1" y="564.2">0.6</text><text x="494.3" y="564.2">0.8</text><text x="520.5" y="564.2">1.0</text></g>
<text transform="translate(360.8,475.4) rotate(-90)" font-size="9.3" fill="#222" text-anchor="middle">Actual probability</text>
<text x="470.4" y="576.8" font-size="9.3" fill="#222" text-anchor="middle">Predicted probability</text>
<path d="M381.7 550.7 L523.3 429.4" stroke="#555" stroke-width="0.8" stroke-dasharray="1,1.3"/>
<path d="M388.0 534.1 L400.6 526.9 L413.1 519.7 L425.6 512.2 L438.3 504.5 L444.6 501.6 L450.3 499.2 L455.6 497.2 L461.1 494.9 L466.6 490.7 L471.9 486.0 L476.6 482.0 L481.6 478.1 L484.6 476.8 L487.6 476.4 L490.6 474.4 L493.6 470.9 L497.6 465.7 L500.8 460.1 L504.4 452.9 L508.0 449.2 L510.1 445.7 L511.6 440.8 L514.0 435.5 L515.6 434.4 L517.6 434.1 L518.8 433.2 L519.5 430.0" stroke="#d0d0d0" stroke-width="0.7" stroke-dasharray="2,1.5" fill="none"/>
<path d="M387.4 534.9 L400.0 527.7 L412.5 520.5 L425.0 513.0 L437.7 505.3 L444.0 502.4 L449.7 500.0 L455.0 498.0 L460.5 495.7 L466.0 491.5 L471.3 486.8 L476.0 482.8 L481.0 478.9 L484.0 477.6 L487.0 477.2 L490.0 475.2 L493.0 471.7 L497.0 466.5 L500.2 460.9 L503.8 453.7 L507.4 450.0 L509.5 446.5 L511.0 441.6 L513.4 436.3 L515.0 435.2 L517.0 434.9 L518.2 434.0 L518.9 430.8" stroke="#6a6a6a" stroke-width="0.75" fill="none"/>
<path d="M435.3 526.9H444.9" stroke="#c8c8c8" stroke-width="0.8" stroke-dasharray="1.6,1.2"/><path d="M435.3 534.9H444.9" stroke="#5a5a5a" stroke-width="0.8"/><path d="M435.3 543.2H444.9" stroke="#888" stroke-width="0.7" stroke-dasharray="0.9,1.4"/>
<g font-size="9.3" fill="#111"><text x="450.8" y="530.1">Apparent</text><text x="450.8" y="538.1">Bias−corrected</text><text x="450.8" y="546.4">Ideal</text></g>
<rect x="552.6" y="422.9" width="128.29999999999995" height="127.70000000000005" fill="none" stroke="#a0a0a0" stroke-width="0.9"/>
<path d="M549.4 547.8H552.6 M676.1 550.6V554.0 M549.4 523.7H552.6 M652.3 550.6V554.0 M549.4 499.7H552.6 M628.6 550.6V554.0 M549.4 475.6H552.6 M604.8 550.6V554.0 M549.4 451.6H552.6 M581.1 550.6V554.0 M549.4 427.5H552.6 M557.3 550.6V554.0" stroke="#666" stroke-width="0.8"/>
<g font-size="10" fill="#222"><text transform="translate(545.9,545.2) rotate(-90)" text-anchor="middle">0.0</text><text transform="translate(545.9,521.1) rotate(-90)" text-anchor="middle">0.2</text><text transform="translate(545.9,497.1) rotate(-90)" text-anchor="middle">0.4</text><text transform="translate(545.9,473.0) rotate(-90)" text-anchor="middle">0.6</text><text transform="translate(545.9,449.0) rotate(-90)" text-anchor="middle">0.8</text><text transform="translate(545.9,424.9) rotate(-90)" text-anchor="middle">1.0</text></g>
<g font-size="10" fill="#222" text-anchor="middle"><text x="679.1" y="563.2">0.0</text><text x="655.3" y="563.2">0.2</text><text x="631.6" y="563.2">0.4</text><text x="607.8" y="563.2">0.6</text><text x="584.1" y="563.2">0.8</text><text x="560.3" y="563.2">1.0</text></g>
<text transform="translate(534.6,477.7) rotate(-90)" font-size="9.4" fill="#222" text-anchor="middle">Sensitivity</text>
<text x="625.4" y="573.2" font-size="9.4" fill="#222" text-anchor="middle">Specificity</text>
<path d="M554.6 550.6L680.6 423.2" stroke="#c8c8c8" stroke-width="0.8"/>
<path d="M557.5 547.8 L557.5 433.5 L561.2 432.3 L566.0 432.0 L566.7 430.6 L580.1 429.6 L597.3 428.7 L620.0 427.9 L650.0 427.6 L676.1 427.5" stroke="#ee1111" stroke-width="2.1" fill="none"/>
<text x="629" y="541.9" font-size="9.45" fill="#111" text-anchor="middle">nomoscore, AUC=0.990</text>
</svg></body></html>
